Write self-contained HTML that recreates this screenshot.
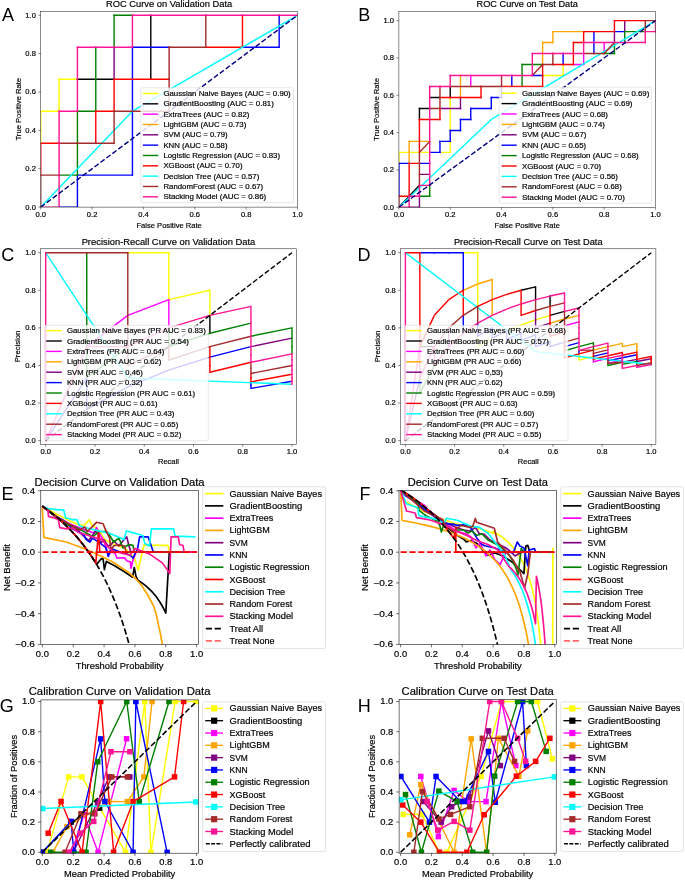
<!DOCTYPE html><html><head><meta charset="utf-8"><style>html,body{margin:0;padding:0;background:#fff;}svg{display:block;}text{font-family:"Liberation Sans", sans-serif;stroke:#000;stroke-width:0.18px;paint-order:stroke;}</style></head><body>
<svg width="685" height="880" viewBox="0 0 685 880">
<rect width="685" height="880" fill="#fff"/>
<defs>
<clipPath id="cA"><rect x="40.75" y="11.40" width="256.75" height="195.70"/></clipPath>
<clipPath id="cB"><rect x="398.90" y="11.40" width="256.60" height="195.90"/></clipPath>
<clipPath id="cC"><rect x="40.60" y="248.80" width="255.70" height="195.50"/></clipPath>
<clipPath id="cD"><rect x="400.60" y="248.80" width="255.30" height="195.50"/></clipPath>
<clipPath id="cE"><rect x="40.80" y="490.70" width="157.60" height="153.70"/></clipPath>
<clipPath id="cF"><rect x="399.00" y="490.70" width="157.70" height="153.70"/></clipPath>
<clipPath id="cG"><rect x="40.90" y="699.90" width="157.40" height="153.30"/></clipPath>
<clipPath id="cH"><rect x="399.10" y="699.70" width="157.10" height="153.50"/></clipPath>
</defs>
<g clip-path="url(#cA)" fill="none" stroke-width="1.41">
<path d="M40.75 143.17V111.20" stroke="#ffff00" stroke-linecap="square"/>
<path d="M40.75 111.20H59.09" stroke="#ffff00" stroke-linecap="square"/>
<path d="M59.09 111.20V79.23" stroke="#ffff00" stroke-linecap="square"/>
<path d="M59.09 79.23H77.43" stroke="#ffff00" stroke-linecap="square"/>
<path d="M77.43 79.23H114.11" stroke="#000000" stroke-linecap="square"/>
<path d="M150.79 79.23V15.30" stroke="#000000" stroke-linecap="square"/>
<path d="M114.11 79.23V47.27" stroke="#800080" stroke-linecap="square"/>
<path d="M59.09 207.10H77.43" stroke="#0000ff" stroke-linecap="square"/>
<path d="M77.43 207.10V175.13" stroke="#0000ff" stroke-linecap="square"/>
<path d="M77.43 175.13H132.45" stroke="#0000ff" stroke-linecap="square"/>
<path d="M132.45 175.13V47.27" stroke="#0000ff" stroke-linecap="square"/>
<path d="M132.45 47.27H169.12" stroke="#0000ff" stroke-linecap="square"/>
<path d="M242.48 47.27H279.16" stroke="#0000ff" stroke-linecap="square"/>
<path d="M279.16 47.27V15.30" stroke="#0000ff" stroke-linecap="square"/>
<path d="M59.09 175.13H77.43" stroke="#008000" stroke-linecap="square"/>
<path d="M77.43 175.13V143.17" stroke="#008000" stroke-linecap="square"/>
<path d="M77.43 143.17V111.20" stroke="#008000" stroke-linecap="square"/>
<path d="M77.43 111.20H95.77" stroke="#008000" stroke-linecap="square"/>
<path d="M95.77 111.20V47.27" stroke="#008000" stroke-linecap="square"/>
<path d="M114.11 47.27V15.30" stroke="#008000" stroke-linecap="square"/>
<path d="M114.11 15.30H132.45" stroke="#008000" stroke-linecap="square"/>
<path d="M40.75 175.13V143.17" stroke="#ff0000" stroke-linecap="square"/>
<path d="M40.75 143.17H59.09" stroke="#ff0000" stroke-linecap="square"/>
<path d="M95.77 143.17V111.20" stroke="#ff0000" stroke-linecap="square"/>
<path d="M95.77 111.20H114.11" stroke="#ff0000" stroke-linecap="square"/>
<path d="M114.11 111.20V79.23" stroke="#ff0000" stroke-linecap="square"/>
<path d="M114.11 79.23H150.79" stroke="#ff0000" stroke-linecap="square"/>
<path d="M150.79 79.23H169.12" stroke="#ff0000" stroke-linecap="square"/>
<path d="M205.80 47.27H242.48" stroke="#ff0000" stroke-linecap="square"/>
<path d="M242.48 47.27V15.30" stroke="#ff0000" stroke-linecap="square"/>
<path d="M40.75 207.10L132.45 111.20" stroke="#00ffff" stroke-linecap="butt"/>
<path d="M132.45 111.20L297.50 15.30" stroke="#00ffff" stroke-linecap="butt"/>
<path d="M40.75 207.10V175.13" stroke="#a52a2a" stroke-linecap="square"/>
<path d="M40.75 175.13H59.09" stroke="#a52a2a" stroke-linecap="square"/>
<path d="M59.09 143.17H77.43" stroke="#a52a2a" stroke-linecap="square"/>
<path d="M77.43 143.17H95.77" stroke="#a52a2a" stroke-linecap="square"/>
<path d="M95.77 143.17H114.11" stroke="#a52a2a" stroke-linecap="square"/>
<path d="M114.11 143.17V111.20" stroke="#a52a2a" stroke-linecap="square"/>
<path d="M114.11 111.20H169.12" stroke="#a52a2a" stroke-linecap="square"/>
<path d="M169.12 111.20V79.23" stroke="#a52a2a" stroke-linecap="square"/>
<path d="M169.12 79.23V47.27" stroke="#a52a2a" stroke-linecap="square"/>
<path d="M169.12 47.27H205.80" stroke="#a52a2a" stroke-linecap="square"/>
<path d="M205.80 47.27V15.30" stroke="#a52a2a" stroke-linecap="square"/>
<path d="M40.75 207.10H59.09" stroke="#ff1493" stroke-linecap="square"/>
<path d="M59.09 207.10V175.13" stroke="#ff1493" stroke-linecap="square"/>
<path d="M59.09 175.13V143.17" stroke="#ff1493" stroke-linecap="square"/>
<path d="M59.09 143.17V111.20" stroke="#ff1493" stroke-linecap="square"/>
<path d="M59.09 111.20H77.43" stroke="#ff1493" stroke-linecap="square"/>
<path d="M77.43 111.20V79.23" stroke="#ff1493" stroke-linecap="square"/>
<path d="M77.43 79.23V47.27" stroke="#ff1493" stroke-linecap="square"/>
<path d="M77.43 47.27H95.77" stroke="#ff1493" stroke-linecap="square"/>
<path d="M95.77 47.27H114.11" stroke="#ff1493" stroke-linecap="square"/>
<path d="M114.11 47.27H132.45" stroke="#ff1493" stroke-linecap="square"/>
<path d="M132.45 47.27V15.30" stroke="#ff1493" stroke-linecap="square"/>
<path d="M132.45 15.30H150.79" stroke="#ff1493" stroke-linecap="square"/>
<path d="M150.79 15.30H205.80" stroke="#ff1493" stroke-linecap="square"/>
<path d="M205.80 15.30H242.48" stroke="#ff1493" stroke-linecap="square"/>
<path d="M242.48 15.30H279.16" stroke="#ff1493" stroke-linecap="square"/>
<path d="M279.16 15.30H297.50" stroke="#ff1493" stroke-linecap="square"/>
</g>
<g clip-path="url(#cA)"><line x1="40.75" y1="207.10" x2="297.50" y2="15.30" stroke="#000080" stroke-width="1.41" stroke-dasharray="5.20 2.25"/></g>
<g clip-path="url(#cB)" fill="none" stroke-width="1.41">
<path d="M398.90 163.37V152.39" stroke="#ffff00" stroke-linecap="square"/>
<path d="M398.90 152.39H429.69" stroke="#ffff00" stroke-linecap="square"/>
<path d="M439.96 152.39H450.22" stroke="#ffff00" stroke-linecap="square"/>
<path d="M450.22 152.39V141.41" stroke="#ffff00" stroke-linecap="square"/>
<path d="M450.22 130.42V97.48" stroke="#ffff00" stroke-linecap="square"/>
<path d="M542.60 75.51H563.12" stroke="#ffff00" stroke-linecap="square"/>
<path d="M563.12 75.51V64.53" stroke="#ffff00" stroke-linecap="square"/>
<path d="M398.90 207.30L419.43 185.34" stroke="#000000" stroke-linecap="butt"/>
<path d="M419.43 119.44V108.46" stroke="#000000" stroke-linecap="square"/>
<path d="M419.43 108.46H429.69" stroke="#000000" stroke-linecap="square"/>
<path d="M429.69 97.48H439.96" stroke="#000000" stroke-linecap="square"/>
<path d="M450.22 97.48V86.49" stroke="#000000" stroke-linecap="square"/>
<path d="M470.75 86.49V75.51" stroke="#ff00ff" stroke-linecap="square"/>
<path d="M573.39 64.53H583.65" stroke="#ff00ff" stroke-linecap="square"/>
<path d="M583.65 64.53V53.55" stroke="#ff00ff" stroke-linecap="square"/>
<path d="M604.18 53.55V42.56" stroke="#ff00ff" stroke-linecap="square"/>
<path d="M409.16 163.37V141.41" stroke="#ffa500" stroke-linecap="square"/>
<path d="M409.16 141.41H429.69" stroke="#ffa500" stroke-linecap="square"/>
<path d="M460.48 97.48V75.51" stroke="#ffa500" stroke-linecap="square"/>
<path d="M542.60 64.53V42.56" stroke="#ffa500" stroke-linecap="square"/>
<path d="M542.60 42.56H552.86" stroke="#ffa500" stroke-linecap="square"/>
<path d="M552.86 42.56V31.58" stroke="#ffa500" stroke-linecap="square"/>
<path d="M552.86 31.58H583.65" stroke="#ffa500" stroke-linecap="square"/>
<path d="M409.16 207.30H419.43" stroke="#800080" stroke-linecap="square"/>
<path d="M419.43 207.30V196.32" stroke="#800080" stroke-linecap="square"/>
<path d="M419.43 174.35H429.69" stroke="#800080" stroke-linecap="square"/>
<path d="M439.96 108.46H460.48" stroke="#800080" stroke-linecap="square"/>
<path d="M460.48 108.46V97.48" stroke="#800080" stroke-linecap="square"/>
<path d="M614.44 42.56V31.58" stroke="#800080" stroke-linecap="square"/>
<path d="M624.71 31.58V20.60" stroke="#800080" stroke-linecap="square"/>
<path d="M398.90 196.32V163.37" stroke="#0000ff" stroke-linecap="square"/>
<path d="M398.90 163.37H409.16" stroke="#0000ff" stroke-linecap="square"/>
<path d="M419.43 163.37H429.69" stroke="#0000ff" stroke-linecap="square"/>
<path d="M429.69 152.39H439.96" stroke="#0000ff" stroke-linecap="square"/>
<path d="M439.96 152.39V141.41" stroke="#0000ff" stroke-linecap="square"/>
<path d="M439.96 141.41H450.22" stroke="#0000ff" stroke-linecap="square"/>
<path d="M450.22 141.41V130.42" stroke="#0000ff" stroke-linecap="square"/>
<path d="M450.22 130.42H460.48" stroke="#0000ff" stroke-linecap="square"/>
<path d="M460.48 130.42V119.44" stroke="#0000ff" stroke-linecap="square"/>
<path d="M460.48 119.44H470.75" stroke="#0000ff" stroke-linecap="square"/>
<path d="M470.75 119.44V108.46" stroke="#0000ff" stroke-linecap="square"/>
<path d="M470.75 108.46H491.28" stroke="#0000ff" stroke-linecap="square"/>
<path d="M491.28 108.46V97.48" stroke="#0000ff" stroke-linecap="square"/>
<path d="M491.28 97.48H501.54" stroke="#0000ff" stroke-linecap="square"/>
<path d="M501.54 97.48V86.49" stroke="#0000ff" stroke-linecap="square"/>
<path d="M511.80 86.49V75.51" stroke="#0000ff" stroke-linecap="square"/>
<path d="M532.33 75.51H542.60" stroke="#0000ff" stroke-linecap="square"/>
<path d="M563.12 64.53V53.55" stroke="#0000ff" stroke-linecap="square"/>
<path d="M593.92 53.55V31.58" stroke="#0000ff" stroke-linecap="square"/>
<path d="M614.44 31.58H624.71" stroke="#0000ff" stroke-linecap="square"/>
<path d="M419.43 196.32H429.69" stroke="#008000" stroke-linecap="square"/>
<path d="M429.69 196.32V185.34" stroke="#008000" stroke-linecap="square"/>
<path d="M522.07 86.49V64.53" stroke="#008000" stroke-linecap="square"/>
<path d="M522.07 64.53H542.60" stroke="#008000" stroke-linecap="square"/>
<path d="M604.18 53.55H614.44" stroke="#008000" stroke-linecap="square"/>
<path d="M614.44 53.55V42.56" stroke="#008000" stroke-linecap="square"/>
<path d="M624.71 42.56V31.58" stroke="#008000" stroke-linecap="square"/>
<path d="M624.71 31.58H645.24" stroke="#008000" stroke-linecap="square"/>
<path d="M398.90 196.32H409.16" stroke="#ff0000" stroke-linecap="square"/>
<path d="M409.16 196.32V163.37" stroke="#ff0000" stroke-linecap="square"/>
<path d="M409.16 163.37H419.43" stroke="#ff0000" stroke-linecap="square"/>
<path d="M419.43 152.39V119.44" stroke="#ff0000" stroke-linecap="square"/>
<path d="M419.43 119.44H439.96" stroke="#ff0000" stroke-linecap="square"/>
<path d="M439.96 119.44V108.46" stroke="#ff0000" stroke-linecap="square"/>
<path d="M439.96 97.48H450.22" stroke="#ff0000" stroke-linecap="square"/>
<path d="M450.22 97.48H481.01" stroke="#ff0000" stroke-linecap="square"/>
<path d="M481.01 97.48V86.49" stroke="#ff0000" stroke-linecap="square"/>
<path d="M501.54 86.49H511.80" stroke="#ff0000" stroke-linecap="square"/>
<path d="M511.80 86.49H542.60" stroke="#ff0000" stroke-linecap="square"/>
<path d="M542.60 86.49V75.51" stroke="#ff0000" stroke-linecap="square"/>
<path d="M542.60 75.51V64.53" stroke="#ff0000" stroke-linecap="square"/>
<path d="M552.86 64.53H563.12" stroke="#ff0000" stroke-linecap="square"/>
<path d="M563.12 64.53H573.39" stroke="#ff0000" stroke-linecap="square"/>
<path d="M573.39 64.53V42.56" stroke="#ff0000" stroke-linecap="square"/>
<path d="M573.39 42.56H583.65" stroke="#ff0000" stroke-linecap="square"/>
<path d="M583.65 42.56V31.58" stroke="#ff0000" stroke-linecap="square"/>
<path d="M583.65 31.58H593.92" stroke="#ff0000" stroke-linecap="square"/>
<path d="M593.92 31.58H614.44" stroke="#ff0000" stroke-linecap="square"/>
<path d="M614.44 31.58V20.60" stroke="#ff0000" stroke-linecap="square"/>
<path d="M614.44 20.60H645.24" stroke="#ff0000" stroke-linecap="square"/>
<path d="M398.90 207.30L491.28 119.44" stroke="#00ffff" stroke-linecap="butt"/>
<path d="M491.28 119.44L655.50 20.60" stroke="#00ffff" stroke-linecap="butt"/>
<path d="M398.90 207.30V196.32" stroke="#a52a2a" stroke-linecap="square"/>
<path d="M419.43 185.34V174.35" stroke="#a52a2a" stroke-linecap="square"/>
<path d="M419.43 174.35V163.37" stroke="#a52a2a" stroke-linecap="square"/>
<path d="M419.43 163.37V152.39" stroke="#a52a2a" stroke-linecap="square"/>
<path d="M419.43 152.39L429.69 141.41" stroke="#a52a2a" stroke-linecap="butt"/>
<path d="M429.69 108.46H439.96" stroke="#a52a2a" stroke-linecap="square"/>
<path d="M439.96 108.46V97.48" stroke="#a52a2a" stroke-linecap="square"/>
<path d="M439.96 97.48V86.49" stroke="#a52a2a" stroke-linecap="square"/>
<path d="M450.22 86.49H481.01" stroke="#a52a2a" stroke-linecap="square"/>
<path d="M481.01 86.49H501.54" stroke="#a52a2a" stroke-linecap="square"/>
<path d="M501.54 86.49V75.51" stroke="#a52a2a" stroke-linecap="square"/>
<path d="M532.33 75.51L542.60 64.53" stroke="#a52a2a" stroke-linecap="butt"/>
<path d="M542.60 64.53H552.86" stroke="#a52a2a" stroke-linecap="square"/>
<path d="M552.86 64.53V53.55" stroke="#a52a2a" stroke-linecap="square"/>
<path d="M583.65 53.55H593.92" stroke="#a52a2a" stroke-linecap="square"/>
<path d="M593.92 53.55H604.18" stroke="#a52a2a" stroke-linecap="square"/>
<path d="M604.18 53.55L614.44 42.56" stroke="#a52a2a" stroke-linecap="butt"/>
<path d="M645.24 31.58V20.60" stroke="#a52a2a" stroke-linecap="square"/>
<path d="M645.24 20.60H655.50" stroke="#a52a2a" stroke-linecap="square"/>
<path d="M398.90 207.30H409.16" stroke="#ff1493" stroke-linecap="square"/>
<path d="M409.16 207.30V196.32" stroke="#ff1493" stroke-linecap="square"/>
<path d="M409.16 196.32H419.43" stroke="#ff1493" stroke-linecap="square"/>
<path d="M419.43 196.32V185.34" stroke="#ff1493" stroke-linecap="square"/>
<path d="M419.43 185.34H429.69" stroke="#ff1493" stroke-linecap="square"/>
<path d="M429.69 185.34V163.37" stroke="#ff1493" stroke-linecap="square"/>
<path d="M429.69 163.37V152.39" stroke="#ff1493" stroke-linecap="square"/>
<path d="M429.69 152.39V141.41" stroke="#ff1493" stroke-linecap="square"/>
<path d="M429.69 141.41V108.46" stroke="#ff1493" stroke-linecap="square"/>
<path d="M429.69 108.46V97.48" stroke="#ff1493" stroke-linecap="square"/>
<path d="M429.69 97.48V86.49" stroke="#ff1493" stroke-linecap="square"/>
<path d="M429.69 86.49H439.96" stroke="#ff1493" stroke-linecap="square"/>
<path d="M439.96 86.49H450.22" stroke="#ff1493" stroke-linecap="square"/>
<path d="M450.22 86.49V75.51" stroke="#ff1493" stroke-linecap="square"/>
<path d="M450.22 75.51H511.80" stroke="#ff1493" stroke-linecap="square"/>
<path d="M511.80 75.51H532.33" stroke="#ff1493" stroke-linecap="square"/>
<path d="M532.33 75.51V53.55" stroke="#ff1493" stroke-linecap="square"/>
<path d="M532.33 53.55H552.86" stroke="#ff1493" stroke-linecap="square"/>
<path d="M552.86 53.55H563.12" stroke="#ff1493" stroke-linecap="square"/>
<path d="M563.12 53.55H583.65" stroke="#ff1493" stroke-linecap="square"/>
<path d="M583.65 53.55V42.56" stroke="#ff1493" stroke-linecap="square"/>
<path d="M583.65 42.56H614.44" stroke="#ff1493" stroke-linecap="square"/>
<path d="M614.44 42.56H624.71" stroke="#ff1493" stroke-linecap="square"/>
<path d="M624.71 42.56H645.24" stroke="#ff1493" stroke-linecap="square"/>
<path d="M645.24 42.56V31.58" stroke="#ff1493" stroke-linecap="square"/>
<path d="M645.24 31.58H655.50" stroke="#ff1493" stroke-linecap="square"/>
<path d="M655.50 31.58V20.60" stroke="#ff1493" stroke-linecap="square"/>
</g>
<g clip-path="url(#cB)"><line x1="398.90" y1="207.30" x2="655.50" y2="20.60" stroke="#000080" stroke-width="1.41" stroke-dasharray="5.20 2.25"/></g>
<g clip-path="url(#cC)" fill="none" stroke-width="1.41">
<path d="M127.80 252.70H168.85" stroke="#ffff00" stroke-linecap="square"/>
<path d="M168.85 299.68V252.70" stroke="#ffff00" stroke-linecap="square"/>
<path d="M168.85 299.68L209.90 290.28" stroke="#ffff00" stroke-linecap="butt"/>
<path d="M209.90 315.33V290.28" stroke="#ffff00" stroke-linecap="square"/>
<path d="M209.90 333.23V315.33" stroke="#000000" stroke-linecap="square"/>
<path d="M86.75 346.65L127.80 315.33" stroke="#ff00ff" stroke-linecap="butt"/>
<path d="M127.80 315.33L168.85 299.68" stroke="#ff00ff" stroke-linecap="butt"/>
<path d="M168.85 327.86V299.68" stroke="#ff00ff" stroke-linecap="square"/>
<path d="M250.95 346.65L292.00 338.11" stroke="#800080" stroke-linecap="butt"/>
<path d="M45.70 440.60L86.75 377.97" stroke="#0000ff" stroke-linecap="butt"/>
<path d="M86.75 393.62V377.97" stroke="#0000ff" stroke-linecap="square"/>
<path d="M86.75 403.02V393.62" stroke="#0000ff" stroke-linecap="square"/>
<path d="M86.75 409.28V403.02" stroke="#0000ff" stroke-linecap="square"/>
<path d="M86.75 409.28L127.80 386.91" stroke="#0000ff" stroke-linecap="butt"/>
<path d="M127.80 386.91L168.85 370.14" stroke="#0000ff" stroke-linecap="butt"/>
<path d="M168.85 370.14L209.90 357.09" stroke="#0000ff" stroke-linecap="butt"/>
<path d="M209.90 357.09L250.95 346.65" stroke="#0000ff" stroke-linecap="butt"/>
<path d="M250.95 385.34V381.88" stroke="#0000ff" stroke-linecap="square"/>
<path d="M250.95 388.41V385.34" stroke="#0000ff" stroke-linecap="square"/>
<path d="M250.95 388.41L292.00 381.26" stroke="#0000ff" stroke-linecap="butt"/>
<path d="M86.75 346.65V252.70" stroke="#008000" stroke-linecap="square"/>
<path d="M86.75 377.97V346.65" stroke="#008000" stroke-linecap="square"/>
<path d="M86.75 377.97L127.80 346.65" stroke="#008000" stroke-linecap="butt"/>
<path d="M168.85 346.65V327.86" stroke="#008000" stroke-linecap="square"/>
<path d="M168.85 346.65L209.90 333.23" stroke="#008000" stroke-linecap="butt"/>
<path d="M209.90 333.23L250.95 323.16" stroke="#008000" stroke-linecap="butt"/>
<path d="M250.95 336.21L292.00 327.86" stroke="#008000" stroke-linecap="butt"/>
<path d="M292.00 338.11V327.86" stroke="#008000" stroke-linecap="square"/>
<path d="M292.00 346.65V338.11" stroke="#008000" stroke-linecap="square"/>
<path d="M292.00 353.88V346.65" stroke="#008000" stroke-linecap="square"/>
<path d="M209.90 357.09V346.65" stroke="#ff0000" stroke-linecap="square"/>
<path d="M209.90 365.44V357.09" stroke="#ff0000" stroke-linecap="square"/>
<path d="M209.90 372.27V365.44" stroke="#ff0000" stroke-linecap="square"/>
<path d="M209.90 372.27L250.95 362.31" stroke="#ff0000" stroke-linecap="butt"/>
<path d="M250.95 377.97V373.49" stroke="#ff0000" stroke-linecap="square"/>
<path d="M250.95 381.88V377.97" stroke="#ff0000" stroke-linecap="square"/>
<path d="M250.95 381.88L292.00 374.28" stroke="#ff0000" stroke-linecap="butt"/>
<path d="M45.70 252.70L127.80 377.97" stroke="#00ffff" stroke-linecap="butt"/>
<path d="M127.80 377.97L292.00 384.23" stroke="#00ffff" stroke-linecap="butt"/>
<path d="M45.70 252.70H86.75" stroke="#a52a2a" stroke-linecap="square"/>
<path d="M86.75 252.70H127.80" stroke="#a52a2a" stroke-linecap="square"/>
<path d="M127.80 365.44V346.65" stroke="#a52a2a" stroke-linecap="square"/>
<path d="M127.80 346.65V315.33" stroke="#a52a2a" stroke-linecap="square"/>
<path d="M127.80 315.33V252.70" stroke="#a52a2a" stroke-linecap="square"/>
<path d="M127.80 365.44L168.85 346.65" stroke="#a52a2a" stroke-linecap="butt"/>
<path d="M168.85 360.07V346.65" stroke="#a52a2a" stroke-linecap="square"/>
<path d="M168.85 360.07L209.90 346.65" stroke="#a52a2a" stroke-linecap="butt"/>
<path d="M209.90 346.65L250.95 336.21" stroke="#a52a2a" stroke-linecap="butt"/>
<path d="M250.95 373.49V368.33" stroke="#a52a2a" stroke-linecap="square"/>
<path d="M250.95 368.33V362.31" stroke="#a52a2a" stroke-linecap="square"/>
<path d="M250.95 373.49L292.00 365.44" stroke="#a52a2a" stroke-linecap="butt"/>
<path d="M45.70 440.60V252.70" stroke="#ff1493" stroke-linecap="square"/>
<path d="M45.70 440.60L86.75 346.65" stroke="#ff1493" stroke-linecap="butt"/>
<path d="M86.75 346.65H127.80" stroke="#ff1493" stroke-linecap="square"/>
<path d="M127.80 346.65L168.85 327.86" stroke="#ff1493" stroke-linecap="butt"/>
<path d="M168.85 327.86L209.90 315.33" stroke="#ff1493" stroke-linecap="butt"/>
<path d="M209.90 315.33L250.95 306.39" stroke="#ff1493" stroke-linecap="butt"/>
<path d="M250.95 362.31V355.19" stroke="#ff1493" stroke-linecap="square"/>
<path d="M250.95 355.19V346.65" stroke="#ff1493" stroke-linecap="square"/>
<path d="M250.95 346.65V336.21" stroke="#ff1493" stroke-linecap="square"/>
<path d="M250.95 336.21V323.16" stroke="#ff1493" stroke-linecap="square"/>
<path d="M250.95 323.16V306.39" stroke="#ff1493" stroke-linecap="square"/>
<path d="M250.95 362.31L292.00 353.88" stroke="#ff1493" stroke-linecap="butt"/>
<path d="M292.00 384.23V381.26" stroke="#ff1493" stroke-linecap="square"/>
<path d="M292.00 381.26V377.97" stroke="#ff1493" stroke-linecap="square"/>
<path d="M292.00 377.97V374.28" stroke="#ff1493" stroke-linecap="square"/>
<path d="M292.00 374.28V370.14" stroke="#ff1493" stroke-linecap="square"/>
<path d="M292.00 370.14V365.44" stroke="#ff1493" stroke-linecap="square"/>
<path d="M292.00 365.44V360.07" stroke="#ff1493" stroke-linecap="square"/>
<path d="M292.00 360.07V353.88" stroke="#ff1493" stroke-linecap="square"/>
</g>
<g clip-path="url(#cC)"><line x1="45.70" y1="440.60" x2="292.00" y2="252.70" stroke="#000" stroke-width="1.41" stroke-dasharray="5.20 2.25"/></g>
<g clip-path="url(#cD)" fill="none" stroke-width="1.41">
<path d="M463.26 252.70H477.72" stroke="#ffff00" stroke-linecap="square"/>
<path d="M477.72 284.02V252.70" stroke="#ffff00" stroke-linecap="square"/>
<path d="M477.72 306.39V284.02" stroke="#ffff00" stroke-linecap="square"/>
<path d="M477.72 346.65V336.21" stroke="#ffff00" stroke-linecap="square"/>
<path d="M477.72 346.65L492.19 338.11" stroke="#ffff00" stroke-linecap="butt"/>
<path d="M506.65 330.99L521.12 324.97" stroke="#ffff00" stroke-linecap="butt"/>
<path d="M521.12 324.97L535.58 319.81" stroke="#ffff00" stroke-linecap="butt"/>
<path d="M535.58 319.81L550.05 315.33" stroke="#ffff00" stroke-linecap="butt"/>
<path d="M578.98 357.09V353.88" stroke="#ffff00" stroke-linecap="square"/>
<path d="M578.98 360.07V357.09" stroke="#ffff00" stroke-linecap="square"/>
<path d="M578.98 360.07L593.44 356.37" stroke="#ffff00" stroke-linecap="butt"/>
<path d="M419.86 346.65H434.33" stroke="#000000" stroke-linecap="square"/>
<path d="M521.12 290.28L535.58 286.86" stroke="#000000" stroke-linecap="butt"/>
<path d="M535.58 299.68V286.86" stroke="#000000" stroke-linecap="square"/>
<path d="M550.05 306.39V296.06" stroke="#000000" stroke-linecap="square"/>
<path d="M550.05 315.33L564.51 311.42" stroke="#000000" stroke-linecap="butt"/>
<path d="M564.51 325.77L578.98 321.93" stroke="#ff00ff" stroke-linecap="butt"/>
<path d="M593.44 361.80V359.18" stroke="#ff00ff" stroke-linecap="square"/>
<path d="M593.44 361.80L607.91 358.39" stroke="#ff00ff" stroke-linecap="butt"/>
<path d="M607.91 363.23L622.37 360.07" stroke="#ff00ff" stroke-linecap="butt"/>
<path d="M463.26 290.28L477.72 284.02" stroke="#ffa500" stroke-linecap="butt"/>
<path d="M477.72 284.02L492.19 279.54" stroke="#ffa500" stroke-linecap="butt"/>
<path d="M492.19 299.68V279.54" stroke="#ffa500" stroke-linecap="square"/>
<path d="M492.19 315.33V299.68" stroke="#ffa500" stroke-linecap="square"/>
<path d="M550.05 323.16L564.51 319.02" stroke="#ffa500" stroke-linecap="butt"/>
<path d="M564.51 319.02L578.98 315.33" stroke="#ffa500" stroke-linecap="butt"/>
<path d="M593.44 350.13L607.91 346.65" stroke="#ffa500" stroke-linecap="butt"/>
<path d="M607.91 346.65L622.37 343.41" stroke="#ffa500" stroke-linecap="butt"/>
<path d="M622.37 346.65V343.41" stroke="#ffa500" stroke-linecap="square"/>
<path d="M622.37 346.65L636.84 343.62" stroke="#ffa500" stroke-linecap="butt"/>
<path d="M636.84 346.65V343.62" stroke="#ffa500" stroke-linecap="square"/>
<path d="M636.84 349.50V346.65" stroke="#ffa500" stroke-linecap="square"/>
<path d="M636.84 352.18V349.50" stroke="#ffa500" stroke-linecap="square"/>
<path d="M405.40 440.60L419.86 377.97" stroke="#800080" stroke-linecap="butt"/>
<path d="M448.79 346.65V327.86" stroke="#800080" stroke-linecap="square"/>
<path d="M535.58 319.81V310.52" stroke="#800080" stroke-linecap="square"/>
<path d="M535.58 327.86V319.81" stroke="#800080" stroke-linecap="square"/>
<path d="M535.58 327.86L550.05 323.16" stroke="#800080" stroke-linecap="butt"/>
<path d="M622.37 362.31L636.84 359.35" stroke="#800080" stroke-linecap="butt"/>
<path d="M636.84 361.48L651.30 358.69" stroke="#800080" stroke-linecap="butt"/>
<path d="M419.86 252.70H434.33" stroke="#0000ff" stroke-linecap="square"/>
<path d="M434.33 252.70H448.79" stroke="#0000ff" stroke-linecap="square"/>
<path d="M448.79 252.70H463.26" stroke="#0000ff" stroke-linecap="square"/>
<path d="M463.26 290.28V252.70" stroke="#0000ff" stroke-linecap="square"/>
<path d="M463.26 333.23V315.33" stroke="#0000ff" stroke-linecap="square"/>
<path d="M477.72 336.21V323.16" stroke="#0000ff" stroke-linecap="square"/>
<path d="M477.72 336.21L492.19 327.86" stroke="#0000ff" stroke-linecap="butt"/>
<path d="M492.19 338.11V327.86" stroke="#0000ff" stroke-linecap="square"/>
<path d="M492.19 338.11L506.65 330.99" stroke="#0000ff" stroke-linecap="butt"/>
<path d="M506.65 339.42V330.99" stroke="#0000ff" stroke-linecap="square"/>
<path d="M506.65 339.42L521.12 333.23" stroke="#0000ff" stroke-linecap="butt"/>
<path d="M521.12 340.39V333.23" stroke="#0000ff" stroke-linecap="square"/>
<path d="M521.12 340.39L535.58 334.91" stroke="#0000ff" stroke-linecap="butt"/>
<path d="M535.58 341.12V334.91" stroke="#0000ff" stroke-linecap="square"/>
<path d="M535.58 346.65V341.12" stroke="#0000ff" stroke-linecap="square"/>
<path d="M535.58 346.65L550.05 341.71" stroke="#0000ff" stroke-linecap="butt"/>
<path d="M550.05 346.65V341.71" stroke="#0000ff" stroke-linecap="square"/>
<path d="M550.05 346.65L564.51 342.18" stroke="#0000ff" stroke-linecap="butt"/>
<path d="M564.51 346.65L578.98 342.57" stroke="#0000ff" stroke-linecap="butt"/>
<path d="M578.98 353.88V350.41" stroke="#0000ff" stroke-linecap="square"/>
<path d="M593.44 356.37L607.91 352.91" stroke="#0000ff" stroke-linecap="butt"/>
<path d="M607.91 360.88L622.37 357.70" stroke="#0000ff" stroke-linecap="butt"/>
<path d="M622.37 357.70L636.84 354.70" stroke="#0000ff" stroke-linecap="butt"/>
<path d="M636.84 361.48V359.35" stroke="#0000ff" stroke-linecap="square"/>
<path d="M419.86 393.62V377.97" stroke="#008000" stroke-linecap="square"/>
<path d="M419.86 393.62L434.33 365.44" stroke="#008000" stroke-linecap="butt"/>
<path d="M564.51 350.73L578.98 346.65" stroke="#008000" stroke-linecap="butt"/>
<path d="M578.98 346.65L593.44 342.89" stroke="#008000" stroke-linecap="butt"/>
<path d="M593.44 346.65V342.89" stroke="#008000" stroke-linecap="square"/>
<path d="M593.44 350.13V346.65" stroke="#008000" stroke-linecap="square"/>
<path d="M607.91 365.44V363.23" stroke="#008000" stroke-linecap="square"/>
<path d="M607.91 365.44L622.37 362.31" stroke="#008000" stroke-linecap="butt"/>
<path d="M622.37 364.42L636.84 361.48" stroke="#008000" stroke-linecap="butt"/>
<path d="M636.84 363.51V361.48" stroke="#008000" stroke-linecap="square"/>
<path d="M636.84 365.44V363.51" stroke="#008000" stroke-linecap="square"/>
<path d="M405.40 252.70H419.86" stroke="#ff0000" stroke-linecap="square"/>
<path d="M419.86 346.65V252.70" stroke="#ff0000" stroke-linecap="square"/>
<path d="M419.86 346.65L434.33 315.33" stroke="#ff0000" stroke-linecap="butt"/>
<path d="M434.33 315.33L448.79 299.68" stroke="#ff0000" stroke-linecap="butt"/>
<path d="M448.79 299.68L463.26 290.28" stroke="#ff0000" stroke-linecap="butt"/>
<path d="M463.26 315.33V290.28" stroke="#ff0000" stroke-linecap="square"/>
<path d="M477.72 306.39L492.19 299.68" stroke="#ff0000" stroke-linecap="butt"/>
<path d="M492.19 299.68L506.65 294.46" stroke="#ff0000" stroke-linecap="butt"/>
<path d="M506.65 294.46L521.12 290.28" stroke="#ff0000" stroke-linecap="butt"/>
<path d="M521.12 303.95V290.28" stroke="#ff0000" stroke-linecap="square"/>
<path d="M521.12 315.33V303.95" stroke="#ff0000" stroke-linecap="square"/>
<path d="M521.12 315.33L535.58 310.52" stroke="#ff0000" stroke-linecap="butt"/>
<path d="M550.05 315.33V306.39" stroke="#ff0000" stroke-linecap="square"/>
<path d="M550.05 323.16V315.33" stroke="#ff0000" stroke-linecap="square"/>
<path d="M550.05 330.07V323.16" stroke="#ff0000" stroke-linecap="square"/>
<path d="M550.05 336.21V330.07" stroke="#ff0000" stroke-linecap="square"/>
<path d="M550.05 336.21L564.51 331.82" stroke="#ff0000" stroke-linecap="butt"/>
<path d="M564.51 346.65V342.18" stroke="#ff0000" stroke-linecap="square"/>
<path d="M564.51 350.73V346.65" stroke="#ff0000" stroke-linecap="square"/>
<path d="M564.51 354.48V350.73" stroke="#ff0000" stroke-linecap="square"/>
<path d="M564.51 357.92V354.48" stroke="#ff0000" stroke-linecap="square"/>
<path d="M564.51 357.92L578.98 353.88" stroke="#ff0000" stroke-linecap="butt"/>
<path d="M578.98 353.88L593.44 350.13" stroke="#ff0000" stroke-linecap="butt"/>
<path d="M593.44 356.37V353.36" stroke="#ff0000" stroke-linecap="square"/>
<path d="M593.44 359.18V356.37" stroke="#ff0000" stroke-linecap="square"/>
<path d="M593.44 359.18L607.91 355.74" stroke="#ff0000" stroke-linecap="butt"/>
<path d="M607.91 355.74L622.37 352.52" stroke="#ff0000" stroke-linecap="butt"/>
<path d="M622.37 355.19V352.52" stroke="#ff0000" stroke-linecap="square"/>
<path d="M622.37 355.19L636.84 352.18" stroke="#ff0000" stroke-linecap="butt"/>
<path d="M636.84 354.70V352.18" stroke="#ff0000" stroke-linecap="square"/>
<path d="M636.84 357.09V354.70" stroke="#ff0000" stroke-linecap="square"/>
<path d="M636.84 359.35V357.09" stroke="#ff0000" stroke-linecap="square"/>
<path d="M636.84 359.35L651.30 356.54" stroke="#ff0000" stroke-linecap="butt"/>
<path d="M651.30 358.69V356.54" stroke="#ff0000" stroke-linecap="square"/>
<path d="M651.30 360.74V358.69" stroke="#ff0000" stroke-linecap="square"/>
<path d="M651.30 362.69V360.74" stroke="#ff0000" stroke-linecap="square"/>
<path d="M405.40 252.70L535.58 351.59" stroke="#00ffff" stroke-linecap="butt"/>
<path d="M535.58 351.59L651.30 364.55" stroke="#00ffff" stroke-linecap="butt"/>
<path d="M434.33 346.65L448.79 327.86" stroke="#a52a2a" stroke-linecap="butt"/>
<path d="M448.79 327.86L463.26 315.33" stroke="#a52a2a" stroke-linecap="butt"/>
<path d="M463.26 315.33L477.72 306.39" stroke="#a52a2a" stroke-linecap="butt"/>
<path d="M477.72 323.16V306.39" stroke="#a52a2a" stroke-linecap="square"/>
<path d="M535.58 310.52V299.68" stroke="#a52a2a" stroke-linecap="square"/>
<path d="M535.58 310.52L550.05 306.39" stroke="#a52a2a" stroke-linecap="butt"/>
<path d="M550.05 306.39L564.51 302.81" stroke="#a52a2a" stroke-linecap="butt"/>
<path d="M564.51 319.02V311.42" stroke="#a52a2a" stroke-linecap="square"/>
<path d="M564.51 325.77V319.02" stroke="#a52a2a" stroke-linecap="square"/>
<path d="M564.51 331.82V325.77" stroke="#a52a2a" stroke-linecap="square"/>
<path d="M564.51 337.25V331.82" stroke="#a52a2a" stroke-linecap="square"/>
<path d="M564.51 342.18V337.25" stroke="#a52a2a" stroke-linecap="square"/>
<path d="M564.51 342.18L578.98 338.11" stroke="#a52a2a" stroke-linecap="butt"/>
<path d="M578.98 350.41L593.44 350.13" stroke="#a52a2a" stroke-linecap="butt"/>
<path d="M593.44 353.36V350.13" stroke="#a52a2a" stroke-linecap="square"/>
<path d="M593.44 353.36L607.91 349.89" stroke="#a52a2a" stroke-linecap="butt"/>
<path d="M607.91 360.88V358.39" stroke="#a52a2a" stroke-linecap="square"/>
<path d="M607.91 363.23V360.88" stroke="#a52a2a" stroke-linecap="square"/>
<path d="M607.91 363.23L622.37 362.31" stroke="#a52a2a" stroke-linecap="butt"/>
<path d="M636.84 365.44L651.30 362.69" stroke="#a52a2a" stroke-linecap="butt"/>
<path d="M651.30 364.55V362.69" stroke="#a52a2a" stroke-linecap="square"/>
<path d="M405.40 440.60V252.70" stroke="#ff1493" stroke-linecap="square"/>
<path d="M405.40 440.60L419.86 346.65" stroke="#ff1493" stroke-linecap="butt"/>
<path d="M419.86 377.97V346.65" stroke="#ff1493" stroke-linecap="square"/>
<path d="M419.86 377.97L434.33 346.65" stroke="#ff1493" stroke-linecap="butt"/>
<path d="M434.33 365.44V346.65" stroke="#ff1493" stroke-linecap="square"/>
<path d="M434.33 365.44L448.79 346.65" stroke="#ff1493" stroke-linecap="butt"/>
<path d="M448.79 346.65L463.26 333.23" stroke="#ff1493" stroke-linecap="butt"/>
<path d="M463.26 333.23L477.72 323.16" stroke="#ff1493" stroke-linecap="butt"/>
<path d="M477.72 323.16L492.19 315.33" stroke="#ff1493" stroke-linecap="butt"/>
<path d="M492.19 315.33L506.65 309.07" stroke="#ff1493" stroke-linecap="butt"/>
<path d="M506.65 309.07L521.12 303.95" stroke="#ff1493" stroke-linecap="butt"/>
<path d="M521.12 303.95L535.58 299.68" stroke="#ff1493" stroke-linecap="butt"/>
<path d="M535.58 299.68L550.05 296.06" stroke="#ff1493" stroke-linecap="butt"/>
<path d="M550.05 296.06L564.51 292.96" stroke="#ff1493" stroke-linecap="butt"/>
<path d="M564.51 302.81V292.96" stroke="#ff1493" stroke-linecap="square"/>
<path d="M564.51 311.42V302.81" stroke="#ff1493" stroke-linecap="square"/>
<path d="M564.51 311.42L578.98 307.96" stroke="#ff1493" stroke-linecap="butt"/>
<path d="M578.98 315.33V307.96" stroke="#ff1493" stroke-linecap="square"/>
<path d="M578.98 321.93V315.33" stroke="#ff1493" stroke-linecap="square"/>
<path d="M578.98 327.86V321.93" stroke="#ff1493" stroke-linecap="square"/>
<path d="M578.98 333.23V327.86" stroke="#ff1493" stroke-linecap="square"/>
<path d="M578.98 338.11V333.23" stroke="#ff1493" stroke-linecap="square"/>
<path d="M578.98 342.57V338.11" stroke="#ff1493" stroke-linecap="square"/>
<path d="M578.98 346.65V342.57" stroke="#ff1493" stroke-linecap="square"/>
<path d="M578.98 350.41V346.65" stroke="#ff1493" stroke-linecap="square"/>
<path d="M578.98 350.41L593.44 346.65" stroke="#ff1493" stroke-linecap="butt"/>
<path d="M593.44 346.65L607.91 343.17" stroke="#ff1493" stroke-linecap="butt"/>
<path d="M607.91 346.65V343.17" stroke="#ff1493" stroke-linecap="square"/>
<path d="M607.91 349.89V346.65" stroke="#ff1493" stroke-linecap="square"/>
<path d="M607.91 352.91V349.89" stroke="#ff1493" stroke-linecap="square"/>
<path d="M607.91 355.74V352.91" stroke="#ff1493" stroke-linecap="square"/>
<path d="M607.91 358.39V355.74" stroke="#ff1493" stroke-linecap="square"/>
<path d="M607.91 358.39L622.37 355.19" stroke="#ff1493" stroke-linecap="butt"/>
<path d="M622.37 357.70V355.19" stroke="#ff1493" stroke-linecap="square"/>
<path d="M622.37 360.07V357.70" stroke="#ff1493" stroke-linecap="square"/>
<path d="M622.37 362.31V360.07" stroke="#ff1493" stroke-linecap="square"/>
<path d="M622.37 364.42V362.31" stroke="#ff1493" stroke-linecap="square"/>
<path d="M622.37 366.43V364.42" stroke="#ff1493" stroke-linecap="square"/>
<path d="M622.37 368.33V366.43" stroke="#ff1493" stroke-linecap="square"/>
<path d="M622.37 368.33L636.84 365.44" stroke="#ff1493" stroke-linecap="butt"/>
<path d="M636.84 367.27V365.44" stroke="#ff1493" stroke-linecap="square"/>
<path d="M636.84 367.27L651.30 364.55" stroke="#ff1493" stroke-linecap="butt"/>
</g>
<g clip-path="url(#cD)"><line x1="405.40" y1="440.60" x2="651.30" y2="252.70" stroke="#000" stroke-width="1.41" stroke-dasharray="5.20 2.25"/></g>
<g clip-path="url(#cE)" fill="none" stroke-linejoin="round" stroke-linecap="butt">
<polyline points="42.2,506.2 57.1,514.5 63.7,517.7 72.8,522.3 79.4,525.0 84.7,525.0 89.3,519.7 91.9,525.0 96.5,528.2 101.8,534.2 104.4,539.4 107.0,540.7 115.0,545.0 125.0,548.0 134.3,557.8 138.2,570.3 140.9,557.8 144.2,544.7 149.4,545.3 167.8,545.3 169.8,552.2 196.6,552.2" stroke="#ffff00" stroke-width="1.67"/>
<polyline points="42.4,506.1 43.2,506.6 43.9,507.2 44.7,507.7 45.5,508.3 46.2,508.8 47.0,509.4 47.7,510.0 48.5,510.5 49.3,511.1 50.0,511.7 50.8,512.3 51.6,512.9 52.3,513.5 53.1,514.1 53.8,514.7 54.6,515.3 55.4,516.0 56.1,516.6 56.9,517.3 57.7,517.9 58.4,518.6 59.2,519.2 60.0,519.9 60.7,520.6 61.5,521.3 62.2,522.0 63.0,522.7 63.8,523.4 64.5,524.1 65.3,524.9 66.1,525.6 66.8,526.3 67.6,527.1 68.4,527.9 69.1,528.6 69.9,529.4 70.6,530.2 71.4,531.0 72.2,531.8 72.9,532.7 73.7,533.5 74.5,534.3 75.2,535.2 76.0,536.0 76.7,536.9 77.5,537.8 78.3,538.7 79.0,539.6 79.8,540.5 80.6,541.5 81.3,542.4 82.1,543.4 82.9,544.4 83.6,545.3 84.4,546.3 85.1,547.4 85.9,548.4 86.7,549.4 87.4,550.5 88.2,551.5 89.0,552.6 89.7,553.7 90.5,554.8 91.3,556.0 92.0,557.1 92.8,558.3 93.5,559.5 94.3,560.7 95.1,561.9 95.8,563.1 96.6,564.4 101.5,558.5 103.1,559.1 104.4,569.6 106.3,561.4 115.0,566.0 124.0,571.5 132.6,577.2 134.3,567.5 136.0,576.3 138.0,580.3 140.3,581.8 142.6,583.4 144.9,585.2 147.3,587.1 149.6,589.3 151.9,591.6 154.2,594.2 156.5,597.1 158.8,600.4 161.1,604.0 163.4,608.2 165.8,613.1 169.3,552.2 196.6,552.2" stroke="#000000" stroke-width="1.67"/>
<polyline points="42.2,506.2 55.0,516.0 70.0,524.0 85.0,530.0 94.0,533.0 96.5,527.6 99.0,533.0 104.0,541.0 108.3,555.2 111.0,552.0 115.0,553.0 117.0,558.0 124.5,557.8 127.0,561.0 130.4,561.8 131.0,568.3 133.0,560.0 136.0,552.2 196.6,552.2" stroke="#ff00ff" stroke-width="1.67"/>
<polyline points="42.2,506.2 43.9,537.4 66.3,542.0 86.0,549.3 99.1,555.2 112.3,561.8 121.0,567.5 129.0,572.8 135.5,578.5 141.3,585.0 147.5,594.5 153.6,606.0 156.2,614.0 158.1,623.4 160.3,633.0 162.3,644.6" stroke="#ffa500" stroke-width="1.67"/>
<polyline points="42.2,506.2 60.0,520.0 75.0,528.0 88.6,540.7 95.2,531.5 98.0,533.0 100.4,543.0 104.0,540.0 108.0,546.0 111.0,544.7 114.0,541.0 118.8,546.0 124.1,539.4 126.7,536.8 129.0,546.0 131.0,552.2 196.6,552.2" stroke="#800080" stroke-width="1.67"/>
<polyline points="42.2,506.2 55.0,516.0 62.3,519.7 68.9,525.0 71.5,528.2 83.4,534.2 86.0,539.4 89.9,542.0 92.6,538.1 100.4,543.4 105.7,547.3 108.3,556.5 111.0,548.6 115.0,550.0 120.0,552.0 125.0,553.0 131.0,556.0 133.0,558.0 137.6,548.6 139.6,536.8 148.1,536.8 153.4,552.2 196.6,552.2" stroke="#0000ff" stroke-width="1.67"/>
<polyline points="42.2,506.2 60.0,520.0 66.3,524.3 75.0,527.0 83.0,531.0 92.6,536.8 99.1,531.5 105.7,531.5 108.3,532.8 113.6,542.0 118.8,538.1 121.0,543.0 123.0,548.0 128.4,544.7 133.0,545.3 134.3,552.2 196.6,552.2" stroke="#008000" stroke-width="1.67"/>
<polyline points="42.4,506.1 43.2,506.6 43.9,507.2 44.7,507.7 45.5,508.3 46.2,508.8 47.0,509.4 47.7,510.0 48.5,510.5 49.3,511.1 50.0,511.7 50.8,512.3 51.6,512.9 52.3,513.5 53.1,514.1 53.8,514.7 54.6,515.3 55.4,516.0 56.1,516.6 56.9,517.3 57.7,517.9 58.4,518.6 59.2,519.2 60.0,519.9 60.7,520.6 61.5,521.3 62.2,522.0 63.0,522.7 63.8,523.4 64.5,524.1 65.3,524.9 66.1,525.6 66.8,526.3 67.6,527.1 68.4,527.9 69.1,528.6 69.9,529.4 70.6,530.2 71.4,531.0 72.2,531.8 72.9,532.7 73.7,533.5 74.5,534.3 75.2,535.2 76.0,536.0 76.7,536.9 77.5,537.8 78.3,538.7 79.0,539.6 79.8,540.5 80.6,541.5 81.3,542.4 82.1,543.4 82.9,544.4 83.6,545.3 84.4,546.3 85.1,547.4 85.9,548.4 86.7,549.4 87.4,550.5 88.2,551.5 89.0,552.6 89.7,553.7 90.5,554.8 91.3,556.0 92.0,557.1 92.8,558.3 93.5,559.5 94.3,560.7 95.1,561.9 95.8,563.1 98.5,532.8 99.8,552.2 196.6,552.2" stroke="#ff0000" stroke-width="1.67"/>
<polyline points="42.2,506.2 47.9,508.5 51.8,509.2 59.7,509.9 63.7,509.9 65.6,517.7 72.8,519.7 76.8,519.7 79.4,525.6 82.0,526.9 110.0,533.5 124.1,539.4 126.4,530.9 142.8,535.5 144.8,543.4 149.4,546.0 151.4,528.9 173.7,528.9 175.0,536.1 195.4,536.8" stroke="#00ffff" stroke-width="1.67"/>
<polyline points="42.2,506.2 60.0,519.0 70.0,524.5 79.4,530.2 84.7,526.9 87.3,531.5 92.6,526.3 96.5,522.3 103.1,523.7 105.7,530.2 109.6,538.1 111.0,550.0 113.6,546.0 117.5,544.7 124.5,546.0 126.4,553.0 129.0,552.2 196.6,552.2" stroke="#a52a2a" stroke-width="1.67"/>
<polyline points="42.2,506.2 47.9,510.5 48.5,516.4 55.8,518.4 58.4,519.7 59.7,527.6 66.3,528.9 72.8,528.2 78.1,532.2 86.0,534.8 96.5,538.1 101.8,539.4 108.3,547.3 113.6,551.2 130.0,555.2 135.0,548.6 149.4,553.9 162.6,563.1 169.8,573.6 171.1,536.8 178.3,536.8 179.6,544.7 182.9,545.3 184.2,552.2 196.6,552.2" stroke="#ff1493" stroke-width="1.67"/>
<polyline points="42.40,506.09 43.16,506.63 43.93,507.17 44.69,507.71 45.45,508.26 46.22,508.82 46.98,509.38 47.74,509.95 48.51,510.53 49.27,511.11 50.03,511.69 50.80,512.29 51.56,512.88 52.32,513.49 53.09,514.10 53.85,514.72 54.61,515.34 55.38,515.98 56.14,516.61 56.90,517.26 57.67,517.91 58.43,518.57 59.19,519.24 59.96,519.91 60.72,520.59 61.48,521.28 62.25,521.98 63.01,522.69 63.77,523.40 64.54,524.12 65.30,524.85 66.06,525.59 66.83,526.34 67.59,527.10 68.35,527.86 69.12,528.64 69.88,529.42 70.64,530.21 71.41,531.02 72.17,531.83 72.93,532.65 73.69,533.49 74.46,534.33 75.22,535.18 75.98,536.05 76.75,536.92 77.51,537.81 78.27,538.71 79.04,539.62 79.80,540.54 80.56,541.48 81.33,542.42 82.09,543.38 82.85,544.36 83.62,545.34 84.38,546.34 85.14,547.35 85.91,548.38 86.67,549.42 87.43,550.47 88.20,551.54 88.96,552.63 89.72,553.73 90.49,554.85 91.25,555.98 92.01,557.13 92.78,558.30 93.54,559.48 94.30,560.68 95.07,561.90 95.83,563.14 96.59,564.39 97.36,565.67 98.12,566.96 98.88,568.28 99.65,569.62 100.41,570.98 101.17,572.35 101.94,573.76 102.70,575.18 103.46,576.63 104.23,578.10 104.99,579.60 105.75,581.12 106.52,582.67 107.28,584.24 108.04,585.84 108.81,587.47 109.57,589.13 110.33,590.81 111.10,592.53 111.86,594.28 112.62,596.06 113.39,597.87 114.15,599.72 114.91,601.60 115.68,603.51 116.44,605.46 117.20,607.45 117.97,609.48 118.73,611.55 119.49,613.66 120.26,615.81 121.02,618.00 121.78,620.24 122.55,622.53 123.31,624.86 124.07,627.24 124.84,629.68 125.60,632.16 126.36,634.70 127.13,637.30 127.89,639.95 128.65,642.66 129.42,645.44 130.18,648.27 130.94,651.18 131.70,654.15 132.47,657.19 133.23,660.31" stroke="#000" stroke-width="1.67" stroke-dasharray="6.17 2.67"/>
<line x1="42.40" y1="552.20" x2="196.60" y2="552.20" stroke="#ff0000" stroke-width="1.67" stroke-dasharray="6.17 2.67"/>
</g>
<g clip-path="url(#cF)" fill="none" stroke-linejoin="round" stroke-linecap="butt">
<polyline points="400.6,490.4 404.6,501.1 417.7,508.4 430.8,514.3 444.0,520.0 457.1,524.0 470.3,527.0 483.0,529.5 493.7,533.5 493.1,531.5 495.1,532.6 497.1,533.8 499.1,535.0 501.1,536.4 503.1,537.9 505.1,539.5 507.1,541.2 509.1,543.1 511.1,545.2 513.1,547.4 515.1,549.9 517.1,552.6 519.1,555.7 521.1,559.1 523.1,562.9 525.1,567.3 527.1,572.2 529.1,578.0 531.1,584.7 533.1,592.6 535.1,602.2 537.0,613.9 539.0,628.6 541.0,647.5 543.0,700.0 552.6,700.0 552.9,548.6 554.0,548.6" stroke="#ffff00" stroke-width="1.67"/>
<polyline points="400.6,490.0 401.4,490.4 402.1,490.9 402.9,491.4 403.7,491.8 404.4,492.3 405.2,492.8 405.9,493.3 406.7,493.8 407.5,494.3 408.2,494.8 409.0,495.3 409.8,495.8 410.5,496.3 411.3,496.8 412.0,497.3 412.8,497.9 413.6,498.4 414.3,498.9 415.1,499.5 415.9,500.0 416.4,501.1 437.4,516.9 444.0,524.8 457.1,535.3 463.7,539.2 466.3,541.9 470.3,540.6 476.8,543.2 487.1,555.2 495.0,553.0 503.0,556.0 512.0,562.0 523.9,573.6 525.8,546.0 527.8,545.3 529.8,552.2 553.0,552.2" stroke="#000000" stroke-width="1.67"/>
<polyline points="400.6,490.4 412.0,498.0 424.3,505.1 428.0,510.0 440.0,520.0 457.1,531.4 466.3,534.0 471.0,537.0 476.0,548.0 480.0,543.0 486.0,556.0 490.0,550.0 495.0,560.0 500.2,564.4 503.0,558.0 506.0,552.2 553.0,552.2" stroke="#ff00ff" stroke-width="1.67"/>
<polyline points="400.6,490.4 402.1,520.5 405.3,521.0 408.5,521.6 411.7,522.2 414.8,522.8 418.0,523.5 421.2,524.2 424.4,524.9 427.5,525.6 430.7,526.4 433.9,527.2 437.1,528.1 440.2,529.0 443.4,530.0 446.6,531.0 449.7,532.1 452.9,533.3 456.1,534.5 459.3,535.9 462.4,537.3 465.6,538.8 468.8,540.4 472.0,542.2 475.1,544.1 478.3,546.1 481.5,548.3 484.7,550.7 487.8,553.4 491.0,556.3 494.2,559.5 497.4,563.1 500.5,567.1 503.7,571.6 506.9,576.7 510.0,582.5 513.2,589.2 516.4,597.0 519.6,606.2 522.7,617.3 525.9,630.7 529.1,647.5" stroke="#ffa500" stroke-width="1.67"/>
<polyline points="400.6,490.4 412.0,500.0 420.0,506.0 431.0,512.0 440.0,520.0 455.0,527.0 463.7,530.0 470.0,531.0 475.5,527.4 479.5,534.0 484.0,534.0 490.0,540.0 500.0,545.0 506.0,548.0 511.0,552.0 515.0,556.0 520.0,553.0 523.0,552.2 553.0,552.2" stroke="#800080" stroke-width="1.67"/>
<polyline points="400.6,490.4 405.9,495.9 415.1,501.1 425.0,510.0 435.0,517.0 444.0,523.5 453.2,524.1 457.1,525.4 463.7,524.8 470.3,527.4 476.8,537.9 482.1,544.5 484.7,545.8 495.0,548.0 505.0,552.0 513.4,552.6 517.3,542.0 519.9,546.0 524.0,548.0 527.8,565.7 529.1,550.0 534.4,548.6 535.7,552.2 553.0,552.2" stroke="#0000ff" stroke-width="1.67"/>
<polyline points="400.6,490.4 410.0,497.0 417.7,502.5 419.0,510.3 426.9,516.3 437.4,521.0 440.0,526.1 441.4,532.0 444.0,524.0 453.0,530.0 463.7,530.0 468.0,533.0 472.0,531.0 476.8,535.3 482.0,534.0 488.0,539.9 500.0,546.0 510.0,556.0 516.0,568.0 518.0,575.0 521.2,548.6 524.0,552.2 553.0,552.2" stroke="#008000" stroke-width="1.67"/>
<polyline points="400.6,490.0 401.4,490.4 402.1,490.9 402.9,491.4 403.7,491.8 404.4,492.3 405.2,492.8 405.9,493.3 406.7,493.8 407.5,494.3 408.2,494.8 409.0,495.3 409.8,495.8 410.5,496.3 411.3,496.8 412.0,497.3 412.8,497.9 413.6,498.4 414.3,498.9 415.1,499.5 415.9,500.0 416.6,500.6 417.4,501.2 418.2,501.7 418.9,502.3 419.7,502.9 420.4,503.5 421.2,504.1 422.0,504.7 422.7,505.3 423.5,505.9 424.3,506.6 425.0,507.2 425.8,507.9 426.6,508.5 427.3,509.2 428.1,509.8 428.8,510.5 429.6,511.2 430.4,511.9 431.1,512.6 431.9,513.3 432.7,514.0 433.4,514.7 434.2,515.5 434.9,516.2 435.7,517.0 436.5,517.7 437.2,518.5 438.0,519.3 438.8,520.1 439.5,520.9 440.3,521.7 441.1,522.5 441.8,523.4 442.6,524.2 443.3,525.1 444.1,525.9 444.9,526.8 445.6,527.7 446.4,528.6 447.2,529.6 447.9,530.5 448.7,531.4 449.5,532.4 450.2,533.4 451.0,534.4 451.7,535.4 452.5,536.4 453.3,537.4 454.0,538.5 455.8,527.4 455.8,552.2 553.0,552.2" stroke="#ff0000" stroke-width="1.67"/>
<polyline points="400.6,490.4 406.5,503.8 417.7,507.7 419.0,515.6 428.2,517.6 437.4,519.5 444.0,523.5 446.6,518.2 457.1,520.2 470.3,526.1 479.5,527.4 488.0,533.3 498.0,546.0 505.0,556.0 511.6,570.8 512.8,572.5 514.1,574.4 515.3,576.3 516.5,578.4 517.7,580.6 518.9,582.9 520.1,585.4 521.3,588.1 522.6,591.0 523.8,594.1 525.0,597.5 526.2,601.2 527.4,605.2 528.6,609.5 529.9,614.3 531.1,619.6 532.3,625.4 533.5,631.9 534.7,639.3 535.9,647.5" stroke="#00ffff" stroke-width="1.67"/>
<polyline points="400.6,490.4 412.0,500.0 424.3,511.0 437.4,516.9 442.7,519.5 444.0,523.5 453.2,531.4 461.1,525.4 470.3,527.4 472.9,526.1 475.3,518.4 476.6,522.3 494.3,528.2 497.6,542.0 505.0,550.0 513.0,560.0 520.0,572.0 524.5,588.0 527.8,574.0 530.4,552.2 553.0,552.2" stroke="#a52a2a" stroke-width="1.67"/>
<polyline points="400.6,490.4 406.5,511.0 415.1,513.0 416.4,517.6 424.3,518.9 430.8,520.2 441.4,524.1 450.6,528.1 457.1,531.4 466.3,535.3 476.8,540.6 488.0,544.5 498.0,550.0 508.5,566.1 510.5,567.9 512.4,569.9 514.3,572.0 516.2,574.4 518.2,577.0 520.1,579.9 522.0,583.1 524.0,586.7 525.9,590.8 527.8,595.5 529.7,601.0 531.7,607.3 533.6,614.8 535.5,623.8 536.4,576.3 536.5,576.4 537.3,580.2 538.2,584.5 539.1,589.3 540.0,594.6 540.9,600.6 541.8,607.5 542.6,615.3 543.5,624.3 544.4,634.9 545.3,647.5" stroke="#ff1493" stroke-width="1.67"/>
<polyline points="400.60,489.99 401.36,490.44 402.13,490.90 402.89,491.37 403.65,491.84 404.42,492.31 405.18,492.79 405.94,493.27 406.71,493.76 407.47,494.25 408.23,494.75 409.00,495.26 409.76,495.77 410.52,496.28 411.29,496.80 412.05,497.33 412.81,497.86 413.58,498.39 414.34,498.94 415.10,499.49 415.87,500.04 416.63,500.60 417.39,501.17 418.16,501.74 418.92,502.32 419.68,502.91 420.45,503.50 421.21,504.10 421.97,504.71 422.74,505.32 423.50,505.94 424.26,506.57 425.03,507.21 425.79,507.85 426.55,508.50 427.32,509.16 428.08,509.83 428.84,510.50 429.61,511.18 430.37,511.88 431.13,512.57 431.89,513.28 432.66,514.00 433.42,514.73 434.18,515.46 434.95,516.21 435.71,516.96 436.47,517.73 437.24,518.50 438.00,519.28 438.76,520.08 439.53,520.88 440.29,521.70 441.05,522.53 441.82,523.36 442.58,524.21 443.34,525.07 444.11,525.95 444.87,526.83 445.63,527.73 446.40,528.64 447.16,529.56 447.92,530.50 448.69,531.45 449.45,532.41 450.21,533.39 450.98,534.38 451.74,535.39 452.50,536.41 453.27,537.44 454.03,538.50 454.79,539.57 455.56,540.65 456.32,541.75 457.08,542.87 457.85,544.01 458.61,545.16 459.37,546.34 460.14,547.53 460.90,548.74 461.66,549.97 462.43,551.22 463.19,552.49 463.95,553.79 464.72,555.10 465.48,556.44 466.24,557.80 467.01,559.19 467.77,560.60 468.53,562.03 469.30,563.49 470.06,564.98 470.82,566.49 471.59,568.03 472.35,569.60 473.11,571.20 473.88,572.83 474.64,574.49 475.40,576.18 476.17,577.91 476.93,579.66 477.69,581.46 478.46,583.29 479.22,585.15 479.98,587.06 480.75,589.00 481.51,590.98 482.27,593.01 483.04,595.08 483.80,597.19 484.56,599.35 485.33,601.56 486.09,603.81 486.85,606.12 487.62,608.48 488.38,610.89 489.14,613.36 489.90,615.89 490.67,618.48 491.43,621.13 492.19,623.84 492.96,626.62 493.72,629.47 494.48,632.40 495.25,635.39 496.01,638.47 496.77,641.63 497.54,644.87 498.30,648.19 499.06,651.61 499.83,655.13 500.59,658.74 501.35,662.46" stroke="#000" stroke-width="1.67" stroke-dasharray="6.17 2.67"/>
<line x1="400.60" y1="552.20" x2="554.80" y2="552.20" stroke="#ff0000" stroke-width="1.67" stroke-dasharray="6.17 2.67"/>
</g>
<g clip-path="url(#cG)" fill="none" stroke-linejoin="round">
<polyline points="47.03,852.30 68.61,776.90 81.88,776.90 125.51,852.30 144.79,701.50 150.96,852.30 175.17,701.50 196.29,701.50" stroke="#ffff00" stroke-width="1.40"/>
<rect x="44.28" y="849.55" width="5.50" height="5.50" fill="#ffff00" stroke="none"/>
<rect x="65.86" y="774.15" width="5.50" height="5.50" fill="#ffff00" stroke="none"/>
<rect x="79.13" y="774.15" width="5.50" height="5.50" fill="#ffff00" stroke="none"/>
<rect x="122.76" y="849.55" width="5.50" height="5.50" fill="#ffff00" stroke="none"/>
<rect x="142.04" y="698.75" width="5.50" height="5.50" fill="#ffff00" stroke="none"/>
<rect x="148.21" y="849.55" width="5.50" height="5.50" fill="#ffff00" stroke="none"/>
<rect x="172.42" y="698.75" width="5.50" height="5.50" fill="#ffff00" stroke="none"/>
<rect x="193.54" y="698.75" width="5.50" height="5.50" fill="#ffff00" stroke="none"/>
<polyline points="42.40,852.30 71.08,822.14 99.61,808.12" stroke="#000000" stroke-width="1.40"/>
<rect x="39.65" y="849.55" width="5.50" height="5.50" fill="#000000" stroke="none"/>
<rect x="68.33" y="819.39" width="5.50" height="5.50" fill="#000000" stroke="none"/>
<rect x="96.86" y="805.37" width="5.50" height="5.50" fill="#000000" stroke="none"/>
<polyline points="71.70,852.30 84.03,814.60 98.07,852.30 126.59,738.75" stroke="#ff00ff" stroke-width="1.40"/>
<rect x="68.95" y="849.55" width="5.50" height="5.50" fill="#ff00ff" stroke="none"/>
<rect x="81.28" y="811.85" width="5.50" height="5.50" fill="#ff00ff" stroke="none"/>
<rect x="95.32" y="849.55" width="5.50" height="5.50" fill="#ff00ff" stroke="none"/>
<rect x="123.84" y="736.00" width="5.50" height="5.50" fill="#ff00ff" stroke="none"/>
<polyline points="52.73,852.30 66.92,826.66 108.86,801.48 127.36,801.63 143.86,776.90 152.04,701.50" stroke="#ffa500" stroke-width="1.40"/>
<rect x="49.98" y="849.55" width="5.50" height="5.50" fill="#ffa500" stroke="none"/>
<rect x="64.17" y="823.91" width="5.50" height="5.50" fill="#ffa500" stroke="none"/>
<rect x="106.11" y="798.73" width="5.50" height="5.50" fill="#ffa500" stroke="none"/>
<rect x="124.61" y="798.88" width="5.50" height="5.50" fill="#ffa500" stroke="none"/>
<rect x="141.11" y="774.15" width="5.50" height="5.50" fill="#ffa500" stroke="none"/>
<rect x="149.29" y="698.75" width="5.50" height="5.50" fill="#ffa500" stroke="none"/>
<polyline points="73.24,852.30 97.60,802.23 109.17,776.90 129.83,776.90" stroke="#800080" stroke-width="1.40"/>
<rect x="70.49" y="849.55" width="5.50" height="5.50" fill="#800080" stroke="none"/>
<rect x="94.85" y="799.48" width="5.50" height="5.50" fill="#800080" stroke="none"/>
<rect x="106.42" y="774.15" width="5.50" height="5.50" fill="#800080" stroke="none"/>
<rect x="127.08" y="774.15" width="5.50" height="5.50" fill="#800080" stroke="none"/>
<polyline points="42.40,852.30 71.08,821.39 73.86,852.30 100.69,738.90 104.85,801.48 133.07,852.30 135.85,701.50 167.15,852.30" stroke="#0000ff" stroke-width="1.40"/>
<rect x="39.65" y="849.55" width="5.50" height="5.50" fill="#0000ff" stroke="none"/>
<rect x="68.33" y="818.64" width="5.50" height="5.50" fill="#0000ff" stroke="none"/>
<rect x="71.11" y="849.55" width="5.50" height="5.50" fill="#0000ff" stroke="none"/>
<rect x="97.94" y="736.15" width="5.50" height="5.50" fill="#0000ff" stroke="none"/>
<rect x="102.10" y="798.73" width="5.50" height="5.50" fill="#0000ff" stroke="none"/>
<rect x="130.32" y="849.55" width="5.50" height="5.50" fill="#0000ff" stroke="none"/>
<rect x="133.10" y="698.75" width="5.50" height="5.50" fill="#0000ff" stroke="none"/>
<rect x="164.40" y="849.55" width="5.50" height="5.50" fill="#0000ff" stroke="none"/>
<polyline points="50.57,852.30 86.04,852.30 97.76,761.82 126.75,701.50 139.24,801.63 169.00,701.50" stroke="#008000" stroke-width="1.40"/>
<rect x="47.82" y="849.55" width="5.50" height="5.50" fill="#008000" stroke="none"/>
<rect x="83.29" y="849.55" width="5.50" height="5.50" fill="#008000" stroke="none"/>
<rect x="95.01" y="759.07" width="5.50" height="5.50" fill="#008000" stroke="none"/>
<rect x="124.00" y="698.75" width="5.50" height="5.50" fill="#008000" stroke="none"/>
<rect x="136.49" y="798.88" width="5.50" height="5.50" fill="#008000" stroke="none"/>
<rect x="166.25" y="698.75" width="5.50" height="5.50" fill="#008000" stroke="none"/>
<polyline points="48.18,833.15 61.06,801.48 82.03,852.30 100.69,701.50 113.64,852.30 133.07,801.63 174.55,776.90 183.65,701.50" stroke="#ff0000" stroke-width="1.40"/>
<rect x="45.43" y="830.40" width="5.50" height="5.50" fill="#ff0000" stroke="none"/>
<rect x="58.31" y="798.73" width="5.50" height="5.50" fill="#ff0000" stroke="none"/>
<rect x="79.28" y="849.55" width="5.50" height="5.50" fill="#ff0000" stroke="none"/>
<rect x="97.94" y="698.75" width="5.50" height="5.50" fill="#ff0000" stroke="none"/>
<rect x="110.89" y="849.55" width="5.50" height="5.50" fill="#ff0000" stroke="none"/>
<rect x="130.32" y="798.88" width="5.50" height="5.50" fill="#ff0000" stroke="none"/>
<rect x="171.80" y="774.15" width="5.50" height="5.50" fill="#ff0000" stroke="none"/>
<rect x="180.90" y="698.75" width="5.50" height="5.50" fill="#ff0000" stroke="none"/>
<polyline points="42.86,808.57 195.67,801.93" stroke="#00ffff" stroke-width="1.40"/>
<rect x="40.11" y="805.82" width="5.50" height="5.50" fill="#00ffff" stroke="none"/>
<rect x="192.92" y="799.18" width="5.50" height="5.50" fill="#00ffff" stroke="none"/>
<polyline points="65.07,852.30 80.95,813.85 94.83,813.85 111.79,776.90 127.36,776.90" stroke="#a52a2a" stroke-width="1.40"/>
<rect x="62.32" y="849.55" width="5.50" height="5.50" fill="#a52a2a" stroke="none"/>
<rect x="78.20" y="811.10" width="5.50" height="5.50" fill="#a52a2a" stroke="none"/>
<rect x="92.08" y="811.10" width="5.50" height="5.50" fill="#a52a2a" stroke="none"/>
<rect x="109.04" y="774.15" width="5.50" height="5.50" fill="#a52a2a" stroke="none"/>
<rect x="124.61" y="774.15" width="5.50" height="5.50" fill="#a52a2a" stroke="none"/>
<polyline points="69.23,852.30 80.33,833.15 93.75,821.39 111.02,751.72 129.83,751.72" stroke="#ff1493" stroke-width="1.40"/>
<rect x="66.48" y="849.55" width="5.50" height="5.50" fill="#ff1493" stroke="none"/>
<rect x="77.58" y="830.40" width="5.50" height="5.50" fill="#ff1493" stroke="none"/>
<rect x="91.00" y="818.64" width="5.50" height="5.50" fill="#ff1493" stroke="none"/>
<rect x="108.27" y="748.97" width="5.50" height="5.50" fill="#ff1493" stroke="none"/>
<rect x="127.08" y="748.97" width="5.50" height="5.50" fill="#ff1493" stroke="none"/>
<line x1="42.40" y1="852.30" x2="196.60" y2="701.50" stroke="#000" stroke-width="1.55" stroke-dasharray="5.6 2.4"/>
</g>
<g clip-path="url(#cH)" fill="none" stroke-linejoin="round">
<polyline points="403.38,814.45 422.19,814.45 439.15,852.30 446.86,852.30 481.09,776.15 501.45,701.50 537.53,701.50 552.33,758.80" stroke="#ffff00" stroke-width="1.40"/>
<rect x="400.63" y="811.70" width="5.50" height="5.50" fill="#ffff00" stroke="none"/>
<rect x="419.44" y="811.70" width="5.50" height="5.50" fill="#ffff00" stroke="none"/>
<rect x="436.40" y="849.55" width="5.50" height="5.50" fill="#ffff00" stroke="none"/>
<rect x="444.11" y="849.55" width="5.50" height="5.50" fill="#ffff00" stroke="none"/>
<rect x="478.34" y="773.40" width="5.50" height="5.50" fill="#ffff00" stroke="none"/>
<rect x="498.70" y="698.75" width="5.50" height="5.50" fill="#ffff00" stroke="none"/>
<rect x="534.78" y="698.75" width="5.50" height="5.50" fill="#ffff00" stroke="none"/>
<rect x="549.58" y="756.05" width="5.50" height="5.50" fill="#ffff00" stroke="none"/>
<polyline points="420.80,776.45 438.38,836.62 454.11,790.47 468.45,801.63 486.03,801.63 501.45,701.50 515.79,765.59" stroke="#ff00ff" stroke-width="1.40"/>
<rect x="418.05" y="773.70" width="5.50" height="5.50" fill="#ff00ff" stroke="none"/>
<rect x="435.63" y="833.87" width="5.50" height="5.50" fill="#ff00ff" stroke="none"/>
<rect x="451.36" y="787.72" width="5.50" height="5.50" fill="#ff00ff" stroke="none"/>
<rect x="465.70" y="798.88" width="5.50" height="5.50" fill="#ff00ff" stroke="none"/>
<rect x="483.28" y="798.88" width="5.50" height="5.50" fill="#ff00ff" stroke="none"/>
<rect x="498.70" y="698.75" width="5.50" height="5.50" fill="#ff00ff" stroke="none"/>
<rect x="513.04" y="762.84" width="5.50" height="5.50" fill="#ff00ff" stroke="none"/>
<polyline points="409.70,834.81 420.80,784.59 454.11,852.30 471.22,738.90 486.64,852.30 498.36,738.30 518.87,776.15 527.66,730.91" stroke="#ffa500" stroke-width="1.40"/>
<rect x="406.95" y="832.06" width="5.50" height="5.50" fill="#ffa500" stroke="none"/>
<rect x="418.05" y="781.84" width="5.50" height="5.50" fill="#ffa500" stroke="none"/>
<rect x="451.36" y="849.55" width="5.50" height="5.50" fill="#ffa500" stroke="none"/>
<rect x="468.47" y="736.15" width="5.50" height="5.50" fill="#ffa500" stroke="none"/>
<rect x="483.89" y="849.55" width="5.50" height="5.50" fill="#ffa500" stroke="none"/>
<rect x="495.61" y="735.55" width="5.50" height="5.50" fill="#ffa500" stroke="none"/>
<rect x="516.12" y="773.40" width="5.50" height="5.50" fill="#ffa500" stroke="none"/>
<rect x="524.91" y="728.16" width="5.50" height="5.50" fill="#ffa500" stroke="none"/>
<polyline points="423.11,801.48 441.15,822.14 451.64,806.76 469.22,796.96 488.49,730.91 500.37,765.59" stroke="#800080" stroke-width="1.40"/>
<rect x="420.36" y="798.73" width="5.50" height="5.50" fill="#800080" stroke="none"/>
<rect x="438.40" y="819.39" width="5.50" height="5.50" fill="#800080" stroke="none"/>
<rect x="448.89" y="804.01" width="5.50" height="5.50" fill="#800080" stroke="none"/>
<rect x="466.47" y="794.21" width="5.50" height="5.50" fill="#800080" stroke="none"/>
<rect x="485.74" y="728.16" width="5.50" height="5.50" fill="#800080" stroke="none"/>
<rect x="497.62" y="762.84" width="5.50" height="5.50" fill="#800080" stroke="none"/>
<polyline points="400.91,776.45 429.44,822.14 436.07,776.45 460.43,801.48 464.59,801.48 488.49,751.41 495.28,802.23 522.57,701.50 526.43,765.59" stroke="#0000ff" stroke-width="1.40"/>
<rect x="398.16" y="773.70" width="5.50" height="5.50" fill="#0000ff" stroke="none"/>
<rect x="426.69" y="819.39" width="5.50" height="5.50" fill="#0000ff" stroke="none"/>
<rect x="433.32" y="773.70" width="5.50" height="5.50" fill="#0000ff" stroke="none"/>
<rect x="457.68" y="798.73" width="5.50" height="5.50" fill="#0000ff" stroke="none"/>
<rect x="461.84" y="798.73" width="5.50" height="5.50" fill="#0000ff" stroke="none"/>
<rect x="485.74" y="748.66" width="5.50" height="5.50" fill="#0000ff" stroke="none"/>
<rect x="492.53" y="799.48" width="5.50" height="5.50" fill="#0000ff" stroke="none"/>
<rect x="519.82" y="698.75" width="5.50" height="5.50" fill="#0000ff" stroke="none"/>
<rect x="523.68" y="762.84" width="5.50" height="5.50" fill="#0000ff" stroke="none"/>
<polyline points="405.53,794.54 421.42,852.30 438.84,791.08 457.04,801.48 472.77,852.30 486.64,852.30 494.66,776.15 517.64,701.50 531.36,701.50 546.16,751.41" stroke="#008000" stroke-width="1.40"/>
<rect x="402.78" y="791.79" width="5.50" height="5.50" fill="#008000" stroke="none"/>
<rect x="418.67" y="849.55" width="5.50" height="5.50" fill="#008000" stroke="none"/>
<rect x="436.09" y="788.33" width="5.50" height="5.50" fill="#008000" stroke="none"/>
<rect x="454.29" y="798.73" width="5.50" height="5.50" fill="#008000" stroke="none"/>
<rect x="470.02" y="849.55" width="5.50" height="5.50" fill="#008000" stroke="none"/>
<rect x="483.89" y="849.55" width="5.50" height="5.50" fill="#008000" stroke="none"/>
<rect x="491.91" y="773.40" width="5.50" height="5.50" fill="#008000" stroke="none"/>
<rect x="514.89" y="698.75" width="5.50" height="5.50" fill="#008000" stroke="none"/>
<rect x="528.61" y="698.75" width="5.50" height="5.50" fill="#008000" stroke="none"/>
<rect x="543.41" y="748.66" width="5.50" height="5.50" fill="#008000" stroke="none"/>
<polyline points="402.76,804.95 420.80,822.14 439.46,852.30 466.91,852.30 484.18,814.75 516.40,776.15 535.68,761.37 549.87,738.30" stroke="#ff0000" stroke-width="1.40"/>
<rect x="400.01" y="802.20" width="5.50" height="5.50" fill="#ff0000" stroke="none"/>
<rect x="418.05" y="819.39" width="5.50" height="5.50" fill="#ff0000" stroke="none"/>
<rect x="436.71" y="849.55" width="5.50" height="5.50" fill="#ff0000" stroke="none"/>
<rect x="464.16" y="849.55" width="5.50" height="5.50" fill="#ff0000" stroke="none"/>
<rect x="481.43" y="812.00" width="5.50" height="5.50" fill="#ff0000" stroke="none"/>
<rect x="513.65" y="773.40" width="5.50" height="5.50" fill="#ff0000" stroke="none"/>
<rect x="532.93" y="758.62" width="5.50" height="5.50" fill="#ff0000" stroke="none"/>
<rect x="547.12" y="735.55" width="5.50" height="5.50" fill="#ff0000" stroke="none"/>
<polyline points="400.91,799.82 554.34,776.90" stroke="#00ffff" stroke-width="1.40"/>
<rect x="398.16" y="797.07" width="5.50" height="5.50" fill="#00ffff" stroke="none"/>
<rect x="551.59" y="774.15" width="5.50" height="5.50" fill="#00ffff" stroke="none"/>
<polyline points="413.86,852.30 422.50,791.53 438.84,818.97 450.56,814.45 469.84,806.76 482.33,738.30 504.07,738.30 514.55,761.37" stroke="#a52a2a" stroke-width="1.40"/>
<rect x="411.11" y="849.55" width="5.50" height="5.50" fill="#a52a2a" stroke="none"/>
<rect x="419.75" y="788.78" width="5.50" height="5.50" fill="#a52a2a" stroke="none"/>
<rect x="436.09" y="816.22" width="5.50" height="5.50" fill="#a52a2a" stroke="none"/>
<rect x="447.81" y="811.70" width="5.50" height="5.50" fill="#a52a2a" stroke="none"/>
<rect x="467.09" y="804.01" width="5.50" height="5.50" fill="#a52a2a" stroke="none"/>
<rect x="479.58" y="735.55" width="5.50" height="5.50" fill="#a52a2a" stroke="none"/>
<rect x="501.32" y="735.55" width="5.50" height="5.50" fill="#a52a2a" stroke="none"/>
<rect x="511.80" y="758.62" width="5.50" height="5.50" fill="#a52a2a" stroke="none"/>
<polyline points="427.12,801.48 437.76,830.13 454.11,821.39 469.84,830.13 489.73,701.50 501.45,701.50 517.64,738.30 525.66,761.37" stroke="#ff1493" stroke-width="1.40"/>
<rect x="424.37" y="798.73" width="5.50" height="5.50" fill="#ff1493" stroke="none"/>
<rect x="435.01" y="827.38" width="5.50" height="5.50" fill="#ff1493" stroke="none"/>
<rect x="451.36" y="818.64" width="5.50" height="5.50" fill="#ff1493" stroke="none"/>
<rect x="467.09" y="827.38" width="5.50" height="5.50" fill="#ff1493" stroke="none"/>
<rect x="486.98" y="698.75" width="5.50" height="5.50" fill="#ff1493" stroke="none"/>
<rect x="498.70" y="698.75" width="5.50" height="5.50" fill="#ff1493" stroke="none"/>
<rect x="514.89" y="735.55" width="5.50" height="5.50" fill="#ff1493" stroke="none"/>
<rect x="522.91" y="758.62" width="5.50" height="5.50" fill="#ff1493" stroke="none"/>
<line x1="400.60" y1="852.30" x2="554.80" y2="701.50" stroke="#000" stroke-width="1.55" stroke-dasharray="5.6 2.4"/>
</g>
<g style="will-change:transform">
<rect x="40.75" y="11.40" width="256.75" height="195.70" fill="none" stroke="#000" stroke-width="0.46"/>
<line x1="40.75" y1="207.10" x2="40.75" y2="209.56" stroke="#000" stroke-width="0.46"/>
<text x="40.75" y="217.13" font-size="7.00" text-anchor="middle" fill="#000" textLength="10.50" lengthAdjust="spacingAndGlyphs">0.0</text>
<line x1="92.10" y1="207.10" x2="92.10" y2="209.56" stroke="#000" stroke-width="0.46"/>
<text x="92.10" y="217.13" font-size="7.00" text-anchor="middle" fill="#000" textLength="10.50" lengthAdjust="spacingAndGlyphs">0.2</text>
<line x1="143.45" y1="207.10" x2="143.45" y2="209.56" stroke="#000" stroke-width="0.46"/>
<text x="143.45" y="217.13" font-size="7.00" text-anchor="middle" fill="#000" textLength="10.50" lengthAdjust="spacingAndGlyphs">0.4</text>
<line x1="194.80" y1="207.10" x2="194.80" y2="209.56" stroke="#000" stroke-width="0.46"/>
<text x="194.80" y="217.13" font-size="7.00" text-anchor="middle" fill="#000" textLength="10.50" lengthAdjust="spacingAndGlyphs">0.6</text>
<line x1="246.15" y1="207.10" x2="246.15" y2="209.56" stroke="#000" stroke-width="0.46"/>
<text x="246.15" y="217.13" font-size="7.00" text-anchor="middle" fill="#000" textLength="10.50" lengthAdjust="spacingAndGlyphs">0.8</text>
<line x1="297.50" y1="207.10" x2="297.50" y2="209.56" stroke="#000" stroke-width="0.46"/>
<text x="297.50" y="217.13" font-size="7.00" text-anchor="middle" fill="#000" textLength="10.50" lengthAdjust="spacingAndGlyphs">1.0</text>
<line x1="38.29" y1="207.10" x2="40.75" y2="207.10" stroke="#000" stroke-width="0.46"/>
<text x="35.83" y="209.51" font-size="7.00" text-anchor="end" fill="#000" textLength="10.50" lengthAdjust="spacingAndGlyphs">0.0</text>
<line x1="38.29" y1="168.74" x2="40.75" y2="168.74" stroke="#000" stroke-width="0.46"/>
<text x="35.83" y="171.15" font-size="7.00" text-anchor="end" fill="#000" textLength="10.50" lengthAdjust="spacingAndGlyphs">0.2</text>
<line x1="38.29" y1="130.38" x2="40.75" y2="130.38" stroke="#000" stroke-width="0.46"/>
<text x="35.83" y="132.79" font-size="7.00" text-anchor="end" fill="#000" textLength="10.50" lengthAdjust="spacingAndGlyphs">0.4</text>
<line x1="38.29" y1="92.02" x2="40.75" y2="92.02" stroke="#000" stroke-width="0.46"/>
<text x="35.83" y="94.43" font-size="7.00" text-anchor="end" fill="#000" textLength="10.50" lengthAdjust="spacingAndGlyphs">0.6</text>
<line x1="38.29" y1="53.66" x2="40.75" y2="53.66" stroke="#000" stroke-width="0.46"/>
<text x="35.83" y="56.07" font-size="7.00" text-anchor="end" fill="#000" textLength="10.50" lengthAdjust="spacingAndGlyphs">0.8</text>
<line x1="38.29" y1="15.30" x2="40.75" y2="15.30" stroke="#000" stroke-width="0.46"/>
<text x="35.83" y="17.71" font-size="7.00" text-anchor="end" fill="#000" textLength="10.50" lengthAdjust="spacingAndGlyphs">1.0</text>
<rect x="398.90" y="11.40" width="256.60" height="195.90" fill="none" stroke="#000" stroke-width="0.46"/>
<line x1="398.90" y1="207.30" x2="398.90" y2="209.76" stroke="#000" stroke-width="0.46"/>
<text x="398.90" y="217.33" font-size="7.00" text-anchor="middle" fill="#000" textLength="10.50" lengthAdjust="spacingAndGlyphs">0.0</text>
<line x1="450.22" y1="207.30" x2="450.22" y2="209.76" stroke="#000" stroke-width="0.46"/>
<text x="450.22" y="217.33" font-size="7.00" text-anchor="middle" fill="#000" textLength="10.50" lengthAdjust="spacingAndGlyphs">0.2</text>
<line x1="501.54" y1="207.30" x2="501.54" y2="209.76" stroke="#000" stroke-width="0.46"/>
<text x="501.54" y="217.33" font-size="7.00" text-anchor="middle" fill="#000" textLength="10.50" lengthAdjust="spacingAndGlyphs">0.4</text>
<line x1="552.86" y1="207.30" x2="552.86" y2="209.76" stroke="#000" stroke-width="0.46"/>
<text x="552.86" y="217.33" font-size="7.00" text-anchor="middle" fill="#000" textLength="10.50" lengthAdjust="spacingAndGlyphs">0.6</text>
<line x1="604.18" y1="207.30" x2="604.18" y2="209.76" stroke="#000" stroke-width="0.46"/>
<text x="604.18" y="217.33" font-size="7.00" text-anchor="middle" fill="#000" textLength="10.50" lengthAdjust="spacingAndGlyphs">0.8</text>
<line x1="655.50" y1="207.30" x2="655.50" y2="209.76" stroke="#000" stroke-width="0.46"/>
<text x="655.50" y="217.33" font-size="7.00" text-anchor="middle" fill="#000" textLength="10.50" lengthAdjust="spacingAndGlyphs">1.0</text>
<line x1="396.44" y1="207.30" x2="398.90" y2="207.30" stroke="#000" stroke-width="0.46"/>
<text x="393.98" y="209.71" font-size="7.00" text-anchor="end" fill="#000" textLength="10.50" lengthAdjust="spacingAndGlyphs">0.0</text>
<line x1="396.44" y1="169.96" x2="398.90" y2="169.96" stroke="#000" stroke-width="0.46"/>
<text x="393.98" y="172.37" font-size="7.00" text-anchor="end" fill="#000" textLength="10.50" lengthAdjust="spacingAndGlyphs">0.2</text>
<line x1="396.44" y1="132.62" x2="398.90" y2="132.62" stroke="#000" stroke-width="0.46"/>
<text x="393.98" y="135.03" font-size="7.00" text-anchor="end" fill="#000" textLength="10.50" lengthAdjust="spacingAndGlyphs">0.4</text>
<line x1="396.44" y1="95.28" x2="398.90" y2="95.28" stroke="#000" stroke-width="0.46"/>
<text x="393.98" y="97.69" font-size="7.00" text-anchor="end" fill="#000" textLength="10.50" lengthAdjust="spacingAndGlyphs">0.6</text>
<line x1="396.44" y1="57.94" x2="398.90" y2="57.94" stroke="#000" stroke-width="0.46"/>
<text x="393.98" y="60.35" font-size="7.00" text-anchor="end" fill="#000" textLength="10.50" lengthAdjust="spacingAndGlyphs">0.8</text>
<line x1="396.44" y1="20.60" x2="398.90" y2="20.60" stroke="#000" stroke-width="0.46"/>
<text x="393.98" y="23.01" font-size="7.00" text-anchor="end" fill="#000" textLength="10.50" lengthAdjust="spacingAndGlyphs">1.0</text>
<rect x="40.60" y="248.80" width="255.70" height="195.50" fill="none" stroke="#000" stroke-width="0.46"/>
<line x1="45.70" y1="444.30" x2="45.70" y2="446.76" stroke="#000" stroke-width="0.46"/>
<text x="45.70" y="454.33" font-size="7.00" text-anchor="middle" fill="#000" textLength="10.50" lengthAdjust="spacingAndGlyphs">0.0</text>
<line x1="94.96" y1="444.30" x2="94.96" y2="446.76" stroke="#000" stroke-width="0.46"/>
<text x="94.96" y="454.33" font-size="7.00" text-anchor="middle" fill="#000" textLength="10.50" lengthAdjust="spacingAndGlyphs">0.2</text>
<line x1="144.22" y1="444.30" x2="144.22" y2="446.76" stroke="#000" stroke-width="0.46"/>
<text x="144.22" y="454.33" font-size="7.00" text-anchor="middle" fill="#000" textLength="10.50" lengthAdjust="spacingAndGlyphs">0.4</text>
<line x1="193.48" y1="444.30" x2="193.48" y2="446.76" stroke="#000" stroke-width="0.46"/>
<text x="193.48" y="454.33" font-size="7.00" text-anchor="middle" fill="#000" textLength="10.50" lengthAdjust="spacingAndGlyphs">0.6</text>
<line x1="242.74" y1="444.30" x2="242.74" y2="446.76" stroke="#000" stroke-width="0.46"/>
<text x="242.74" y="454.33" font-size="7.00" text-anchor="middle" fill="#000" textLength="10.50" lengthAdjust="spacingAndGlyphs">0.8</text>
<line x1="292.00" y1="444.30" x2="292.00" y2="446.76" stroke="#000" stroke-width="0.46"/>
<text x="292.00" y="454.33" font-size="7.00" text-anchor="middle" fill="#000" textLength="10.50" lengthAdjust="spacingAndGlyphs">1.0</text>
<line x1="38.14" y1="440.60" x2="40.60" y2="440.60" stroke="#000" stroke-width="0.46"/>
<text x="35.68" y="443.01" font-size="7.00" text-anchor="end" fill="#000" textLength="10.50" lengthAdjust="spacingAndGlyphs">0.0</text>
<line x1="38.14" y1="403.02" x2="40.60" y2="403.02" stroke="#000" stroke-width="0.46"/>
<text x="35.68" y="405.43" font-size="7.00" text-anchor="end" fill="#000" textLength="10.50" lengthAdjust="spacingAndGlyphs">0.2</text>
<line x1="38.14" y1="365.44" x2="40.60" y2="365.44" stroke="#000" stroke-width="0.46"/>
<text x="35.68" y="367.85" font-size="7.00" text-anchor="end" fill="#000" textLength="10.50" lengthAdjust="spacingAndGlyphs">0.4</text>
<line x1="38.14" y1="327.86" x2="40.60" y2="327.86" stroke="#000" stroke-width="0.46"/>
<text x="35.68" y="330.27" font-size="7.00" text-anchor="end" fill="#000" textLength="10.50" lengthAdjust="spacingAndGlyphs">0.6</text>
<line x1="38.14" y1="290.28" x2="40.60" y2="290.28" stroke="#000" stroke-width="0.46"/>
<text x="35.68" y="292.69" font-size="7.00" text-anchor="end" fill="#000" textLength="10.50" lengthAdjust="spacingAndGlyphs">0.8</text>
<line x1="38.14" y1="252.70" x2="40.60" y2="252.70" stroke="#000" stroke-width="0.46"/>
<text x="35.68" y="255.11" font-size="7.00" text-anchor="end" fill="#000" textLength="10.50" lengthAdjust="spacingAndGlyphs">1.0</text>
<rect x="400.60" y="248.80" width="255.30" height="195.50" fill="none" stroke="#000" stroke-width="0.46"/>
<line x1="405.40" y1="444.30" x2="405.40" y2="446.76" stroke="#000" stroke-width="0.46"/>
<text x="405.40" y="454.33" font-size="7.00" text-anchor="middle" fill="#000" textLength="10.50" lengthAdjust="spacingAndGlyphs">0.0</text>
<line x1="454.58" y1="444.30" x2="454.58" y2="446.76" stroke="#000" stroke-width="0.46"/>
<text x="454.58" y="454.33" font-size="7.00" text-anchor="middle" fill="#000" textLength="10.50" lengthAdjust="spacingAndGlyphs">0.2</text>
<line x1="503.76" y1="444.30" x2="503.76" y2="446.76" stroke="#000" stroke-width="0.46"/>
<text x="503.76" y="454.33" font-size="7.00" text-anchor="middle" fill="#000" textLength="10.50" lengthAdjust="spacingAndGlyphs">0.4</text>
<line x1="552.94" y1="444.30" x2="552.94" y2="446.76" stroke="#000" stroke-width="0.46"/>
<text x="552.94" y="454.33" font-size="7.00" text-anchor="middle" fill="#000" textLength="10.50" lengthAdjust="spacingAndGlyphs">0.6</text>
<line x1="602.12" y1="444.30" x2="602.12" y2="446.76" stroke="#000" stroke-width="0.46"/>
<text x="602.12" y="454.33" font-size="7.00" text-anchor="middle" fill="#000" textLength="10.50" lengthAdjust="spacingAndGlyphs">0.8</text>
<line x1="651.30" y1="444.30" x2="651.30" y2="446.76" stroke="#000" stroke-width="0.46"/>
<text x="651.30" y="454.33" font-size="7.00" text-anchor="middle" fill="#000" textLength="10.50" lengthAdjust="spacingAndGlyphs">1.0</text>
<line x1="398.14" y1="440.60" x2="400.60" y2="440.60" stroke="#000" stroke-width="0.46"/>
<text x="395.68" y="443.01" font-size="7.00" text-anchor="end" fill="#000" textLength="10.50" lengthAdjust="spacingAndGlyphs">0.0</text>
<line x1="398.14" y1="403.02" x2="400.60" y2="403.02" stroke="#000" stroke-width="0.46"/>
<text x="395.68" y="405.43" font-size="7.00" text-anchor="end" fill="#000" textLength="10.50" lengthAdjust="spacingAndGlyphs">0.2</text>
<line x1="398.14" y1="365.44" x2="400.60" y2="365.44" stroke="#000" stroke-width="0.46"/>
<text x="395.68" y="367.85" font-size="7.00" text-anchor="end" fill="#000" textLength="10.50" lengthAdjust="spacingAndGlyphs">0.4</text>
<line x1="398.14" y1="327.86" x2="400.60" y2="327.86" stroke="#000" stroke-width="0.46"/>
<text x="395.68" y="330.27" font-size="7.00" text-anchor="end" fill="#000" textLength="10.50" lengthAdjust="spacingAndGlyphs">0.6</text>
<line x1="398.14" y1="290.28" x2="400.60" y2="290.28" stroke="#000" stroke-width="0.46"/>
<text x="395.68" y="292.69" font-size="7.00" text-anchor="end" fill="#000" textLength="10.50" lengthAdjust="spacingAndGlyphs">0.8</text>
<line x1="398.14" y1="252.70" x2="400.60" y2="252.70" stroke="#000" stroke-width="0.46"/>
<text x="395.68" y="255.11" font-size="7.00" text-anchor="end" fill="#000" textLength="10.50" lengthAdjust="spacingAndGlyphs">1.0</text>
<rect x="40.80" y="490.70" width="157.60" height="153.70" fill="none" stroke="#000" stroke-width="0.55"/>
<line x1="42.40" y1="644.40" x2="42.40" y2="647.32" stroke="#000" stroke-width="0.55"/>
<text x="42.40" y="656.52" font-size="8.60" text-anchor="middle" fill="#000" textLength="13.04" lengthAdjust="spacingAndGlyphs">0.0</text>
<line x1="73.24" y1="644.40" x2="73.24" y2="647.32" stroke="#000" stroke-width="0.55"/>
<text x="73.24" y="656.52" font-size="8.60" text-anchor="middle" fill="#000" textLength="13.04" lengthAdjust="spacingAndGlyphs">0.2</text>
<line x1="104.08" y1="644.40" x2="104.08" y2="647.32" stroke="#000" stroke-width="0.55"/>
<text x="104.08" y="656.52" font-size="8.60" text-anchor="middle" fill="#000" textLength="13.04" lengthAdjust="spacingAndGlyphs">0.4</text>
<line x1="134.92" y1="644.40" x2="134.92" y2="647.32" stroke="#000" stroke-width="0.55"/>
<text x="134.92" y="656.52" font-size="8.60" text-anchor="middle" fill="#000" textLength="13.04" lengthAdjust="spacingAndGlyphs">0.6</text>
<line x1="165.76" y1="644.40" x2="165.76" y2="647.32" stroke="#000" stroke-width="0.55"/>
<text x="165.76" y="656.52" font-size="8.60" text-anchor="middle" fill="#000" textLength="13.04" lengthAdjust="spacingAndGlyphs">0.8</text>
<line x1="196.60" y1="644.40" x2="196.60" y2="647.32" stroke="#000" stroke-width="0.55"/>
<text x="196.60" y="656.52" font-size="8.60" text-anchor="middle" fill="#000" textLength="13.04" lengthAdjust="spacingAndGlyphs">1.0</text>
<line x1="37.88" y1="644.42" x2="40.80" y2="644.42" stroke="#000" stroke-width="0.55"/>
<text x="34.96" y="647.41" font-size="8.60" text-anchor="end" fill="#000" textLength="19.91" lengthAdjust="spacingAndGlyphs">−0.6</text>
<line x1="37.88" y1="613.68" x2="40.80" y2="613.68" stroke="#000" stroke-width="0.55"/>
<text x="34.96" y="616.67" font-size="8.60" text-anchor="end" fill="#000" textLength="19.91" lengthAdjust="spacingAndGlyphs">−0.4</text>
<line x1="37.88" y1="582.94" x2="40.80" y2="582.94" stroke="#000" stroke-width="0.55"/>
<text x="34.96" y="585.93" font-size="8.60" text-anchor="end" fill="#000" textLength="19.91" lengthAdjust="spacingAndGlyphs">−0.2</text>
<line x1="37.88" y1="552.20" x2="40.80" y2="552.20" stroke="#000" stroke-width="0.55"/>
<text x="34.96" y="555.19" font-size="8.60" text-anchor="end" fill="#000" textLength="13.04" lengthAdjust="spacingAndGlyphs">0.0</text>
<line x1="37.88" y1="521.46" x2="40.80" y2="521.46" stroke="#000" stroke-width="0.55"/>
<text x="34.96" y="524.45" font-size="8.60" text-anchor="end" fill="#000" textLength="13.04" lengthAdjust="spacingAndGlyphs">0.2</text>
<line x1="37.88" y1="490.72" x2="40.80" y2="490.72" stroke="#000" stroke-width="0.55"/>
<text x="34.96" y="493.71" font-size="8.60" text-anchor="end" fill="#000" textLength="13.04" lengthAdjust="spacingAndGlyphs">0.4</text>
<rect x="399.00" y="490.70" width="157.70" height="153.70" fill="none" stroke="#000" stroke-width="0.55"/>
<line x1="400.60" y1="644.40" x2="400.60" y2="647.32" stroke="#000" stroke-width="0.55"/>
<text x="400.60" y="656.52" font-size="8.60" text-anchor="middle" fill="#000" textLength="13.04" lengthAdjust="spacingAndGlyphs">0.0</text>
<line x1="431.44" y1="644.40" x2="431.44" y2="647.32" stroke="#000" stroke-width="0.55"/>
<text x="431.44" y="656.52" font-size="8.60" text-anchor="middle" fill="#000" textLength="13.04" lengthAdjust="spacingAndGlyphs">0.2</text>
<line x1="462.28" y1="644.40" x2="462.28" y2="647.32" stroke="#000" stroke-width="0.55"/>
<text x="462.28" y="656.52" font-size="8.60" text-anchor="middle" fill="#000" textLength="13.04" lengthAdjust="spacingAndGlyphs">0.4</text>
<line x1="493.12" y1="644.40" x2="493.12" y2="647.32" stroke="#000" stroke-width="0.55"/>
<text x="493.12" y="656.52" font-size="8.60" text-anchor="middle" fill="#000" textLength="13.04" lengthAdjust="spacingAndGlyphs">0.6</text>
<line x1="523.96" y1="644.40" x2="523.96" y2="647.32" stroke="#000" stroke-width="0.55"/>
<text x="523.96" y="656.52" font-size="8.60" text-anchor="middle" fill="#000" textLength="13.04" lengthAdjust="spacingAndGlyphs">0.8</text>
<line x1="554.80" y1="644.40" x2="554.80" y2="647.32" stroke="#000" stroke-width="0.55"/>
<text x="554.80" y="656.52" font-size="8.60" text-anchor="middle" fill="#000" textLength="13.04" lengthAdjust="spacingAndGlyphs">1.0</text>
<line x1="396.08" y1="644.42" x2="399.00" y2="644.42" stroke="#000" stroke-width="0.55"/>
<text x="393.16" y="647.41" font-size="8.60" text-anchor="end" fill="#000" textLength="19.91" lengthAdjust="spacingAndGlyphs">−0.6</text>
<line x1="396.08" y1="613.68" x2="399.00" y2="613.68" stroke="#000" stroke-width="0.55"/>
<text x="393.16" y="616.67" font-size="8.60" text-anchor="end" fill="#000" textLength="19.91" lengthAdjust="spacingAndGlyphs">−0.4</text>
<line x1="396.08" y1="582.94" x2="399.00" y2="582.94" stroke="#000" stroke-width="0.55"/>
<text x="393.16" y="585.93" font-size="8.60" text-anchor="end" fill="#000" textLength="19.91" lengthAdjust="spacingAndGlyphs">−0.2</text>
<line x1="396.08" y1="552.20" x2="399.00" y2="552.20" stroke="#000" stroke-width="0.55"/>
<text x="393.16" y="555.19" font-size="8.60" text-anchor="end" fill="#000" textLength="13.04" lengthAdjust="spacingAndGlyphs">0.0</text>
<line x1="396.08" y1="521.46" x2="399.00" y2="521.46" stroke="#000" stroke-width="0.55"/>
<text x="393.16" y="524.45" font-size="8.60" text-anchor="end" fill="#000" textLength="13.04" lengthAdjust="spacingAndGlyphs">0.2</text>
<line x1="396.08" y1="490.72" x2="399.00" y2="490.72" stroke="#000" stroke-width="0.55"/>
<text x="393.16" y="493.71" font-size="8.60" text-anchor="end" fill="#000" textLength="13.04" lengthAdjust="spacingAndGlyphs">0.4</text>
<rect x="40.90" y="699.90" width="157.40" height="153.30" fill="none" stroke="#000" stroke-width="0.55"/>
<line x1="42.40" y1="853.20" x2="42.40" y2="856.12" stroke="#000" stroke-width="0.55"/>
<text x="42.40" y="865.32" font-size="8.60" text-anchor="middle" fill="#000" textLength="13.04" lengthAdjust="spacingAndGlyphs">0.0</text>
<line x1="73.24" y1="853.20" x2="73.24" y2="856.12" stroke="#000" stroke-width="0.55"/>
<text x="73.24" y="865.32" font-size="8.60" text-anchor="middle" fill="#000" textLength="13.04" lengthAdjust="spacingAndGlyphs">0.2</text>
<line x1="104.08" y1="853.20" x2="104.08" y2="856.12" stroke="#000" stroke-width="0.55"/>
<text x="104.08" y="865.32" font-size="8.60" text-anchor="middle" fill="#000" textLength="13.04" lengthAdjust="spacingAndGlyphs">0.4</text>
<line x1="134.92" y1="853.20" x2="134.92" y2="856.12" stroke="#000" stroke-width="0.55"/>
<text x="134.92" y="865.32" font-size="8.60" text-anchor="middle" fill="#000" textLength="13.04" lengthAdjust="spacingAndGlyphs">0.6</text>
<line x1="165.76" y1="853.20" x2="165.76" y2="856.12" stroke="#000" stroke-width="0.55"/>
<text x="165.76" y="865.32" font-size="8.60" text-anchor="middle" fill="#000" textLength="13.04" lengthAdjust="spacingAndGlyphs">0.8</text>
<line x1="196.60" y1="853.20" x2="196.60" y2="856.12" stroke="#000" stroke-width="0.55"/>
<text x="196.60" y="865.32" font-size="8.60" text-anchor="middle" fill="#000" textLength="13.04" lengthAdjust="spacingAndGlyphs">1.0</text>
<line x1="37.98" y1="852.30" x2="40.90" y2="852.30" stroke="#000" stroke-width="0.55"/>
<text x="35.06" y="855.29" font-size="8.60" text-anchor="end" fill="#000" textLength="13.04" lengthAdjust="spacingAndGlyphs">0.0</text>
<line x1="37.98" y1="822.14" x2="40.90" y2="822.14" stroke="#000" stroke-width="0.55"/>
<text x="35.06" y="825.13" font-size="8.60" text-anchor="end" fill="#000" textLength="13.04" lengthAdjust="spacingAndGlyphs">0.2</text>
<line x1="37.98" y1="791.98" x2="40.90" y2="791.98" stroke="#000" stroke-width="0.55"/>
<text x="35.06" y="794.97" font-size="8.60" text-anchor="end" fill="#000" textLength="13.04" lengthAdjust="spacingAndGlyphs">0.4</text>
<line x1="37.98" y1="761.82" x2="40.90" y2="761.82" stroke="#000" stroke-width="0.55"/>
<text x="35.06" y="764.81" font-size="8.60" text-anchor="end" fill="#000" textLength="13.04" lengthAdjust="spacingAndGlyphs">0.6</text>
<line x1="37.98" y1="731.66" x2="40.90" y2="731.66" stroke="#000" stroke-width="0.55"/>
<text x="35.06" y="734.65" font-size="8.60" text-anchor="end" fill="#000" textLength="13.04" lengthAdjust="spacingAndGlyphs">0.8</text>
<line x1="37.98" y1="701.50" x2="40.90" y2="701.50" stroke="#000" stroke-width="0.55"/>
<text x="35.06" y="704.49" font-size="8.60" text-anchor="end" fill="#000" textLength="13.04" lengthAdjust="spacingAndGlyphs">1.0</text>
<rect x="399.10" y="699.70" width="157.10" height="153.50" fill="none" stroke="#000" stroke-width="0.55"/>
<line x1="400.60" y1="853.20" x2="400.60" y2="856.12" stroke="#000" stroke-width="0.55"/>
<text x="400.60" y="865.32" font-size="8.60" text-anchor="middle" fill="#000" textLength="13.04" lengthAdjust="spacingAndGlyphs">0.0</text>
<line x1="431.44" y1="853.20" x2="431.44" y2="856.12" stroke="#000" stroke-width="0.55"/>
<text x="431.44" y="865.32" font-size="8.60" text-anchor="middle" fill="#000" textLength="13.04" lengthAdjust="spacingAndGlyphs">0.2</text>
<line x1="462.28" y1="853.20" x2="462.28" y2="856.12" stroke="#000" stroke-width="0.55"/>
<text x="462.28" y="865.32" font-size="8.60" text-anchor="middle" fill="#000" textLength="13.04" lengthAdjust="spacingAndGlyphs">0.4</text>
<line x1="493.12" y1="853.20" x2="493.12" y2="856.12" stroke="#000" stroke-width="0.55"/>
<text x="493.12" y="865.32" font-size="8.60" text-anchor="middle" fill="#000" textLength="13.04" lengthAdjust="spacingAndGlyphs">0.6</text>
<line x1="523.96" y1="853.20" x2="523.96" y2="856.12" stroke="#000" stroke-width="0.55"/>
<text x="523.96" y="865.32" font-size="8.60" text-anchor="middle" fill="#000" textLength="13.04" lengthAdjust="spacingAndGlyphs">0.8</text>
<line x1="554.80" y1="853.20" x2="554.80" y2="856.12" stroke="#000" stroke-width="0.55"/>
<text x="554.80" y="865.32" font-size="8.60" text-anchor="middle" fill="#000" textLength="13.04" lengthAdjust="spacingAndGlyphs">1.0</text>
<line x1="396.18" y1="852.30" x2="399.10" y2="852.30" stroke="#000" stroke-width="0.55"/>
<text x="393.26" y="855.29" font-size="8.60" text-anchor="end" fill="#000" textLength="13.04" lengthAdjust="spacingAndGlyphs">0.0</text>
<line x1="396.18" y1="822.14" x2="399.10" y2="822.14" stroke="#000" stroke-width="0.55"/>
<text x="393.26" y="825.13" font-size="8.60" text-anchor="end" fill="#000" textLength="13.04" lengthAdjust="spacingAndGlyphs">0.2</text>
<line x1="396.18" y1="791.98" x2="399.10" y2="791.98" stroke="#000" stroke-width="0.55"/>
<text x="393.26" y="794.97" font-size="8.60" text-anchor="end" fill="#000" textLength="13.04" lengthAdjust="spacingAndGlyphs">0.4</text>
<line x1="396.18" y1="761.82" x2="399.10" y2="761.82" stroke="#000" stroke-width="0.55"/>
<text x="393.26" y="764.81" font-size="8.60" text-anchor="end" fill="#000" textLength="13.04" lengthAdjust="spacingAndGlyphs">0.6</text>
<line x1="396.18" y1="731.66" x2="399.10" y2="731.66" stroke="#000" stroke-width="0.55"/>
<text x="393.26" y="734.65" font-size="8.60" text-anchor="end" fill="#000" textLength="13.04" lengthAdjust="spacingAndGlyphs">0.8</text>
<line x1="396.18" y1="701.50" x2="399.10" y2="701.50" stroke="#000" stroke-width="0.55"/>
<text x="393.26" y="704.49" font-size="8.60" text-anchor="end" fill="#000" textLength="13.04" lengthAdjust="spacingAndGlyphs">1.0</text>
<text x="169.12" y="7.00" font-size="8.60" text-anchor="middle" fill="#000" textLength="126.22" lengthAdjust="spacingAndGlyphs">ROC Curve on Validation Data</text>
<text x="527.20" y="7.00" font-size="8.60" text-anchor="middle" fill="#000" textLength="101.20" lengthAdjust="spacingAndGlyphs">ROC Curve on Test Data</text>
<text x="168.45" y="244.70" font-size="8.60" text-anchor="middle" fill="#000" textLength="173.65" lengthAdjust="spacingAndGlyphs">Precision-Recall Curve on Validation Data</text>
<text x="528.25" y="244.70" font-size="8.60" text-anchor="middle" fill="#000" textLength="148.62" lengthAdjust="spacingAndGlyphs">Precision-Recall Curve on Test Data</text>
<text x="119.60" y="486.30" font-size="10.17" text-anchor="middle" fill="#000" textLength="169.99" lengthAdjust="spacingAndGlyphs">Decision Curve on Validation Data</text>
<text x="477.85" y="486.30" font-size="10.17" text-anchor="middle" fill="#000" textLength="140.39" lengthAdjust="spacingAndGlyphs">Decision Curve on Test Data</text>
<text x="119.60" y="694.80" font-size="10.17" text-anchor="middle" fill="#000" textLength="181.79" lengthAdjust="spacingAndGlyphs">Calibration Curve on Validation Data</text>
<text x="477.65" y="694.80" font-size="10.17" text-anchor="middle" fill="#000" textLength="152.19" lengthAdjust="spacingAndGlyphs">Calibration Curve on Test Data</text>
<text x="169.12" y="227.60" font-size="7.17" text-anchor="middle" fill="#000" textLength="65.34" lengthAdjust="spacingAndGlyphs">False Positive Rate</text>
<text x="527.20" y="227.60" font-size="7.17" text-anchor="middle" fill="#000" textLength="65.34" lengthAdjust="spacingAndGlyphs">False Positive Rate</text>
<text x="21.00" y="109.25" font-size="7.17" text-anchor="middle" fill="#000" textLength="62.62" lengthAdjust="spacingAndGlyphs" transform="rotate(-90 21.00 109.25)">True Positive Rate</text>
<text x="379.00" y="109.35" font-size="7.17" text-anchor="middle" fill="#000" textLength="62.62" lengthAdjust="spacingAndGlyphs" transform="rotate(-90 379.00 109.35)">True Positive Rate</text>
<text x="168.45" y="464.00" font-size="7.17" text-anchor="middle" fill="#000" textLength="20.97" lengthAdjust="spacingAndGlyphs">Recall</text>
<text x="528.25" y="464.00" font-size="7.17" text-anchor="middle" fill="#000" textLength="20.97" lengthAdjust="spacingAndGlyphs">Recall</text>
<text x="20.30" y="346.55" font-size="7.17" text-anchor="middle" fill="#000" textLength="31.37" lengthAdjust="spacingAndGlyphs" transform="rotate(-90 20.30 346.55)">Precision</text>
<text x="380.30" y="346.55" font-size="7.17" text-anchor="middle" fill="#000" textLength="31.37" lengthAdjust="spacingAndGlyphs" transform="rotate(-90 380.30 346.55)">Precision</text>
<text x="119.60" y="668.60" font-size="8.51" text-anchor="middle" fill="#000" textLength="87.84" lengthAdjust="spacingAndGlyphs">Threshold Probability</text>
<text x="477.85" y="668.60" font-size="8.51" text-anchor="middle" fill="#000" textLength="87.84" lengthAdjust="spacingAndGlyphs">Threshold Probability</text>
<text x="10.20" y="567.55" font-size="8.51" text-anchor="middle" fill="#000" textLength="47.08" lengthAdjust="spacingAndGlyphs" transform="rotate(-90 10.20 567.55)">Net Benefit</text>
<text x="368.40" y="567.55" font-size="8.51" text-anchor="middle" fill="#000" textLength="47.08" lengthAdjust="spacingAndGlyphs" transform="rotate(-90 368.40 567.55)">Net Benefit</text>
<text x="119.60" y="877.00" font-size="8.51" text-anchor="middle" fill="#000" textLength="111.26" lengthAdjust="spacingAndGlyphs">Mean Predicted Probability</text>
<text x="477.65" y="877.00" font-size="8.51" text-anchor="middle" fill="#000" textLength="111.26" lengthAdjust="spacingAndGlyphs">Mean Predicted Probability</text>
<text x="17.30" y="776.55" font-size="8.51" text-anchor="middle" fill="#000" textLength="83.13" lengthAdjust="spacingAndGlyphs" transform="rotate(-90 17.30 776.55)">Fraction of Positives</text>
<text x="375.50" y="776.45" font-size="8.51" text-anchor="middle" fill="#000" textLength="83.13" lengthAdjust="spacingAndGlyphs" transform="rotate(-90 375.50 776.45)">Fraction of Positives</text>
<text x="2.0" y="20.9" font-size="18" style="stroke:none">A</text>
<text x="358.3" y="20.9" font-size="18" style="stroke:none">B</text>
<text x="1.2" y="260.9" font-size="18" style="stroke:none">C</text>
<text x="357.6" y="260.9" font-size="18" style="stroke:none">D</text>
<text x="1.6" y="499.9" font-size="18" style="stroke:none">E</text>
<text x="359.4" y="499.9" font-size="18" style="stroke:none">F</text>
<text x="-0.2" y="712.2" font-size="18" style="stroke:none">G</text>
<text x="357.7" y="712.3" font-size="18" style="stroke:none">H</text>
<rect x="140.70" y="87.70" width="152.80" height="114.90" rx="1.41" fill="#fff" fill-opacity="0.8" stroke="#cccccc" stroke-opacity="0.8" stroke-width="0.56"/>
<line x1="142.80" y1="93.50" x2="158.20" y2="93.50" stroke="#ffff00" stroke-width="1.41"/>
<text x="163.40" y="96.08" font-size="7.21" text-anchor="start" fill="#000" textLength="127.32" lengthAdjust="spacingAndGlyphs">Gaussian Naive Bayes (AUC = 0.90)</text>
<line x1="142.80" y1="103.83" x2="158.20" y2="103.83" stroke="#000000" stroke-width="1.41"/>
<text x="163.40" y="106.41" font-size="7.21" text-anchor="start" fill="#000" textLength="110.53" lengthAdjust="spacingAndGlyphs">GradientBoosting (AUC = 0.81)</text>
<line x1="142.80" y1="114.16" x2="158.20" y2="114.16" stroke="#ff00ff" stroke-width="1.41"/>
<text x="163.40" y="116.74" font-size="7.21" text-anchor="start" fill="#000" textLength="85.95" lengthAdjust="spacingAndGlyphs">ExtraTrees (AUC = 0.82)</text>
<line x1="142.80" y1="124.49" x2="158.20" y2="124.49" stroke="#ffa500" stroke-width="1.41"/>
<text x="163.40" y="127.07" font-size="7.21" text-anchor="start" fill="#000" textLength="82.95" lengthAdjust="spacingAndGlyphs">LightGBM (AUC = 0.73)</text>
<line x1="142.80" y1="134.82" x2="158.20" y2="134.82" stroke="#800080" stroke-width="1.41"/>
<text x="163.40" y="137.40" font-size="7.21" text-anchor="start" fill="#000" textLength="64.30" lengthAdjust="spacingAndGlyphs">SVM (AUC = 0.79)</text>
<line x1="142.80" y1="145.15" x2="158.20" y2="145.15" stroke="#0000ff" stroke-width="1.41"/>
<text x="163.40" y="147.73" font-size="7.21" text-anchor="start" fill="#000" textLength="64.09" lengthAdjust="spacingAndGlyphs">KNN (AUC = 0.58)</text>
<line x1="142.80" y1="155.48" x2="158.20" y2="155.48" stroke="#008000" stroke-width="1.41"/>
<text x="163.40" y="158.06" font-size="7.21" text-anchor="start" fill="#000" textLength="116.69" lengthAdjust="spacingAndGlyphs">Logistic Regression (AUC = 0.83)</text>
<line x1="142.80" y1="165.81" x2="158.20" y2="165.81" stroke="#ff0000" stroke-width="1.41"/>
<text x="163.40" y="168.39" font-size="7.21" text-anchor="start" fill="#000" textLength="79.15" lengthAdjust="spacingAndGlyphs">XGBoost (AUC = 0.70)</text>
<line x1="142.80" y1="176.14" x2="158.20" y2="176.14" stroke="#00ffff" stroke-width="1.41"/>
<text x="163.40" y="178.72" font-size="7.21" text-anchor="start" fill="#000" textLength="95.95" lengthAdjust="spacingAndGlyphs">Decision Tree (AUC = 0.57)</text>
<line x1="142.80" y1="186.47" x2="158.20" y2="186.47" stroke="#a52a2a" stroke-width="1.41"/>
<text x="163.40" y="189.05" font-size="7.21" text-anchor="start" fill="#000" textLength="99.84" lengthAdjust="spacingAndGlyphs">RandomForest (AUC = 0.67)</text>
<line x1="142.80" y1="196.80" x2="158.20" y2="196.80" stroke="#ff1493" stroke-width="1.41"/>
<text x="163.40" y="199.38" font-size="7.21" text-anchor="start" fill="#000" textLength="102.85" lengthAdjust="spacingAndGlyphs">Stacking Model (AUC = 0.86)</text>
<rect x="499.10" y="87.20" width="152.40" height="116.10" rx="1.41" fill="#fff" fill-opacity="0.8" stroke="#cccccc" stroke-opacity="0.8" stroke-width="0.56"/>
<line x1="501.50" y1="93.20" x2="516.70" y2="93.20" stroke="#ffff00" stroke-width="1.41"/>
<text x="522.00" y="95.78" font-size="7.21" text-anchor="start" fill="#000" textLength="127.32" lengthAdjust="spacingAndGlyphs">Gaussian Naive Bayes (AUC = 0.69)</text>
<line x1="501.50" y1="103.60" x2="516.70" y2="103.60" stroke="#000000" stroke-width="1.41"/>
<text x="522.00" y="106.18" font-size="7.21" text-anchor="start" fill="#000" textLength="110.53" lengthAdjust="spacingAndGlyphs">GradientBoosting (AUC = 0.69)</text>
<line x1="501.50" y1="114.00" x2="516.70" y2="114.00" stroke="#ff00ff" stroke-width="1.41"/>
<text x="522.00" y="116.58" font-size="7.21" text-anchor="start" fill="#000" textLength="85.95" lengthAdjust="spacingAndGlyphs">ExtraTrees (AUC = 0.68)</text>
<line x1="501.50" y1="124.40" x2="516.70" y2="124.40" stroke="#ffa500" stroke-width="1.41"/>
<text x="522.00" y="126.98" font-size="7.21" text-anchor="start" fill="#000" textLength="82.95" lengthAdjust="spacingAndGlyphs">LightGBM (AUC = 0.74)</text>
<line x1="501.50" y1="134.80" x2="516.70" y2="134.80" stroke="#800080" stroke-width="1.41"/>
<text x="522.00" y="137.38" font-size="7.21" text-anchor="start" fill="#000" textLength="64.30" lengthAdjust="spacingAndGlyphs">SVM (AUC = 0.67)</text>
<line x1="501.50" y1="145.20" x2="516.70" y2="145.20" stroke="#0000ff" stroke-width="1.41"/>
<text x="522.00" y="147.78" font-size="7.21" text-anchor="start" fill="#000" textLength="64.09" lengthAdjust="spacingAndGlyphs">KNN (AUC = 0.65)</text>
<line x1="501.50" y1="155.60" x2="516.70" y2="155.60" stroke="#008000" stroke-width="1.41"/>
<text x="522.00" y="158.18" font-size="7.21" text-anchor="start" fill="#000" textLength="116.69" lengthAdjust="spacingAndGlyphs">Logistic Regression (AUC = 0.68)</text>
<line x1="501.50" y1="166.00" x2="516.70" y2="166.00" stroke="#ff0000" stroke-width="1.41"/>
<text x="522.00" y="168.58" font-size="7.21" text-anchor="start" fill="#000" textLength="79.15" lengthAdjust="spacingAndGlyphs">XGBoost (AUC = 0.70)</text>
<line x1="501.50" y1="176.40" x2="516.70" y2="176.40" stroke="#00ffff" stroke-width="1.41"/>
<text x="522.00" y="178.98" font-size="7.21" text-anchor="start" fill="#000" textLength="95.95" lengthAdjust="spacingAndGlyphs">Decision Tree (AUC = 0.56)</text>
<line x1="501.50" y1="186.80" x2="516.70" y2="186.80" stroke="#a52a2a" stroke-width="1.41"/>
<text x="522.00" y="189.38" font-size="7.21" text-anchor="start" fill="#000" textLength="99.84" lengthAdjust="spacingAndGlyphs">RandomForest (AUC = 0.68)</text>
<line x1="501.50" y1="197.20" x2="516.70" y2="197.20" stroke="#ff1493" stroke-width="1.41"/>
<text x="522.00" y="199.78" font-size="7.21" text-anchor="start" fill="#000" textLength="102.85" lengthAdjust="spacingAndGlyphs">Stacking Model (AUC = 0.70)</text>
<rect x="44.60" y="325.30" width="163.70" height="115.30" rx="1.41" fill="#fff" fill-opacity="0.8" stroke="#cccccc" stroke-opacity="0.8" stroke-width="0.56"/>
<line x1="46.20" y1="330.60" x2="61.80" y2="330.60" stroke="#ffff00" stroke-width="1.41"/>
<text x="67.00" y="333.18" font-size="7.21" text-anchor="start" fill="#000" textLength="138.75" lengthAdjust="spacingAndGlyphs">Gaussian Naive Bayes (PR AUC = 0.83)</text>
<line x1="46.20" y1="341.00" x2="61.80" y2="341.00" stroke="#000000" stroke-width="1.41"/>
<text x="67.00" y="343.58" font-size="7.21" text-anchor="start" fill="#000" textLength="121.96" lengthAdjust="spacingAndGlyphs">GradientBoosting (PR AUC = 0.54)</text>
<line x1="46.20" y1="351.40" x2="61.80" y2="351.40" stroke="#ff00ff" stroke-width="1.41"/>
<text x="67.00" y="353.98" font-size="7.21" text-anchor="start" fill="#000" textLength="97.37" lengthAdjust="spacingAndGlyphs">ExtraTrees (PR AUC = 0.64)</text>
<line x1="46.20" y1="361.80" x2="61.80" y2="361.80" stroke="#ffa500" stroke-width="1.41"/>
<text x="67.00" y="364.38" font-size="7.21" text-anchor="start" fill="#000" textLength="94.37" lengthAdjust="spacingAndGlyphs">LightGBM (PR AUC = 0.62)</text>
<line x1="46.20" y1="372.20" x2="61.80" y2="372.20" stroke="#800080" stroke-width="1.41"/>
<text x="67.00" y="374.78" font-size="7.21" text-anchor="start" fill="#000" textLength="75.72" lengthAdjust="spacingAndGlyphs">SVM (PR AUC = 0.46)</text>
<line x1="46.20" y1="382.60" x2="61.80" y2="382.60" stroke="#0000ff" stroke-width="1.41"/>
<text x="67.00" y="385.18" font-size="7.21" text-anchor="start" fill="#000" textLength="75.51" lengthAdjust="spacingAndGlyphs">KNN (PR AUC = 0.32)</text>
<line x1="46.20" y1="393.00" x2="61.80" y2="393.00" stroke="#008000" stroke-width="1.41"/>
<text x="67.00" y="395.58" font-size="7.21" text-anchor="start" fill="#000" textLength="128.11" lengthAdjust="spacingAndGlyphs">Logistic Regression (PR AUC = 0.61)</text>
<line x1="46.20" y1="403.40" x2="61.80" y2="403.40" stroke="#ff0000" stroke-width="1.41"/>
<text x="67.00" y="405.98" font-size="7.21" text-anchor="start" fill="#000" textLength="90.57" lengthAdjust="spacingAndGlyphs">XGBoost (PR AUC = 0.61)</text>
<line x1="46.20" y1="413.80" x2="61.80" y2="413.80" stroke="#00ffff" stroke-width="1.41"/>
<text x="67.00" y="416.38" font-size="7.21" text-anchor="start" fill="#000" textLength="107.37" lengthAdjust="spacingAndGlyphs">Decision Tree (PR AUC = 0.43)</text>
<line x1="46.20" y1="424.20" x2="61.80" y2="424.20" stroke="#a52a2a" stroke-width="1.41"/>
<text x="67.00" y="426.78" font-size="7.21" text-anchor="start" fill="#000" textLength="111.26" lengthAdjust="spacingAndGlyphs">RandomForest (PR AUC = 0.65)</text>
<line x1="46.20" y1="434.60" x2="61.80" y2="434.60" stroke="#ff1493" stroke-width="1.41"/>
<text x="67.00" y="437.18" font-size="7.21" text-anchor="start" fill="#000" textLength="114.28" lengthAdjust="spacingAndGlyphs">Stacking Model (PR AUC = 0.52)</text>
<rect x="404.60" y="325.30" width="163.40" height="115.30" rx="1.41" fill="#fff" fill-opacity="0.8" stroke="#cccccc" stroke-opacity="0.8" stroke-width="0.56"/>
<line x1="406.20" y1="330.60" x2="421.80" y2="330.60" stroke="#ffff00" stroke-width="1.41"/>
<text x="427.00" y="333.18" font-size="7.21" text-anchor="start" fill="#000" textLength="138.75" lengthAdjust="spacingAndGlyphs">Gaussian Naive Bayes (PR AUC = 0.68)</text>
<line x1="406.20" y1="341.00" x2="421.80" y2="341.00" stroke="#000000" stroke-width="1.41"/>
<text x="427.00" y="343.58" font-size="7.21" text-anchor="start" fill="#000" textLength="121.96" lengthAdjust="spacingAndGlyphs">GradientBoosting (PR AUC = 0.57)</text>
<line x1="406.20" y1="351.40" x2="421.80" y2="351.40" stroke="#ff00ff" stroke-width="1.41"/>
<text x="427.00" y="353.98" font-size="7.21" text-anchor="start" fill="#000" textLength="97.37" lengthAdjust="spacingAndGlyphs">ExtraTrees (PR AUC = 0.60)</text>
<line x1="406.20" y1="361.80" x2="421.80" y2="361.80" stroke="#ffa500" stroke-width="1.41"/>
<text x="427.00" y="364.38" font-size="7.21" text-anchor="start" fill="#000" textLength="94.37" lengthAdjust="spacingAndGlyphs">LightGBM (PR AUC = 0.66)</text>
<line x1="406.20" y1="372.20" x2="421.80" y2="372.20" stroke="#800080" stroke-width="1.41"/>
<text x="427.00" y="374.78" font-size="7.21" text-anchor="start" fill="#000" textLength="75.72" lengthAdjust="spacingAndGlyphs">SVM (PR AUC = 0.53)</text>
<line x1="406.20" y1="382.60" x2="421.80" y2="382.60" stroke="#0000ff" stroke-width="1.41"/>
<text x="427.00" y="385.18" font-size="7.21" text-anchor="start" fill="#000" textLength="75.51" lengthAdjust="spacingAndGlyphs">KNN (PR AUC = 0.62)</text>
<line x1="406.20" y1="393.00" x2="421.80" y2="393.00" stroke="#008000" stroke-width="1.41"/>
<text x="427.00" y="395.58" font-size="7.21" text-anchor="start" fill="#000" textLength="128.11" lengthAdjust="spacingAndGlyphs">Logistic Regression (PR AUC = 0.59)</text>
<line x1="406.20" y1="403.40" x2="421.80" y2="403.40" stroke="#ff0000" stroke-width="1.41"/>
<text x="427.00" y="405.98" font-size="7.21" text-anchor="start" fill="#000" textLength="90.57" lengthAdjust="spacingAndGlyphs">XGBoost (PR AUC = 0.63)</text>
<line x1="406.20" y1="413.80" x2="421.80" y2="413.80" stroke="#00ffff" stroke-width="1.41"/>
<text x="427.00" y="416.38" font-size="7.21" text-anchor="start" fill="#000" textLength="107.37" lengthAdjust="spacingAndGlyphs">Decision Tree (PR AUC = 0.60)</text>
<line x1="406.20" y1="424.20" x2="421.80" y2="424.20" stroke="#a52a2a" stroke-width="1.41"/>
<text x="427.00" y="426.78" font-size="7.21" text-anchor="start" fill="#000" textLength="111.26" lengthAdjust="spacingAndGlyphs">RandomForest (PR AUC = 0.57)</text>
<line x1="406.20" y1="434.60" x2="421.80" y2="434.60" stroke="#ff1493" stroke-width="1.41"/>
<text x="427.00" y="437.18" font-size="7.21" text-anchor="start" fill="#000" textLength="114.28" lengthAdjust="spacingAndGlyphs">Stacking Model (PR AUC = 0.55)</text>
<rect x="202.70" y="486.80" width="122.80" height="161.80" rx="1.67" fill="#fff" fill-opacity="0.8" stroke="#cccccc" stroke-opacity="0.8" stroke-width="0.67"/>
<line x1="205.00" y1="493.60" x2="223.40" y2="493.60" stroke="#ffff00" stroke-width="1.67"/>
<text x="229.50" y="496.64" font-size="8.51" text-anchor="start" fill="#000" textLength="92.54" lengthAdjust="spacingAndGlyphs">Gaussian Naive Bayes</text>
<line x1="205.00" y1="505.87" x2="223.40" y2="505.87" stroke="#000000" stroke-width="1.67"/>
<text x="229.50" y="508.91" font-size="8.51" text-anchor="start" fill="#000" textLength="72.74" lengthAdjust="spacingAndGlyphs">GradientBoosting</text>
<line x1="205.00" y1="518.14" x2="223.40" y2="518.14" stroke="#ff00ff" stroke-width="1.67"/>
<text x="229.50" y="521.18" font-size="8.51" text-anchor="start" fill="#000" textLength="43.74" lengthAdjust="spacingAndGlyphs">ExtraTrees</text>
<line x1="205.00" y1="530.41" x2="223.40" y2="530.41" stroke="#ffa500" stroke-width="1.67"/>
<text x="229.50" y="533.45" font-size="8.51" text-anchor="start" fill="#000" textLength="40.19" lengthAdjust="spacingAndGlyphs">LightGBM</text>
<line x1="205.00" y1="542.68" x2="223.40" y2="542.68" stroke="#800080" stroke-width="1.67"/>
<text x="229.50" y="545.72" font-size="8.51" text-anchor="start" fill="#000" textLength="18.19" lengthAdjust="spacingAndGlyphs">SVM</text>
<line x1="205.00" y1="554.95" x2="223.40" y2="554.95" stroke="#0000ff" stroke-width="1.67"/>
<text x="229.50" y="557.99" font-size="8.51" text-anchor="start" fill="#000" textLength="17.95" lengthAdjust="spacingAndGlyphs">KNN</text>
<line x1="205.00" y1="567.22" x2="223.40" y2="567.22" stroke="#008000" stroke-width="1.67"/>
<text x="229.50" y="570.26" font-size="8.51" text-anchor="start" fill="#000" textLength="80.00" lengthAdjust="spacingAndGlyphs">Logistic Regression</text>
<line x1="205.00" y1="579.49" x2="223.40" y2="579.49" stroke="#ff0000" stroke-width="1.67"/>
<text x="229.50" y="582.53" font-size="8.51" text-anchor="start" fill="#000" textLength="35.72" lengthAdjust="spacingAndGlyphs">XGBoost</text>
<line x1="205.00" y1="591.76" x2="223.40" y2="591.76" stroke="#00ffff" stroke-width="1.67"/>
<text x="229.50" y="594.80" font-size="8.51" text-anchor="start" fill="#000" textLength="55.53" lengthAdjust="spacingAndGlyphs">Decision Tree</text>
<line x1="205.00" y1="604.03" x2="223.40" y2="604.03" stroke="#a52a2a" stroke-width="1.67"/>
<text x="229.50" y="607.07" font-size="8.51" text-anchor="start" fill="#000" textLength="62.77" lengthAdjust="spacingAndGlyphs">Random Forest</text>
<line x1="205.00" y1="616.30" x2="223.40" y2="616.30" stroke="#ff1493" stroke-width="1.67"/>
<text x="229.50" y="619.34" font-size="8.51" text-anchor="start" fill="#000" textLength="63.68" lengthAdjust="spacingAndGlyphs">Stacking Model</text>
<line x1="205.83" y1="628.57" x2="222.57" y2="628.57" stroke="#000" stroke-width="1.67" stroke-dasharray="6.17 2.67"/>
<text x="229.50" y="631.61" font-size="8.51" text-anchor="start" fill="#000" textLength="33.62" lengthAdjust="spacingAndGlyphs">Treat All</text>
<line x1="205.83" y1="640.84" x2="222.57" y2="640.84" stroke="#ff6b6b" stroke-width="1.67" stroke-dasharray="6.17 2.67"/>
<text x="229.50" y="643.88" font-size="8.51" text-anchor="start" fill="#000" textLength="45.04" lengthAdjust="spacingAndGlyphs">Treat None</text>
<rect x="560.80" y="486.80" width="122.80" height="161.80" rx="1.67" fill="#fff" fill-opacity="0.8" stroke="#cccccc" stroke-opacity="0.8" stroke-width="0.67"/>
<line x1="563.10" y1="493.60" x2="581.50" y2="493.60" stroke="#ffff00" stroke-width="1.67"/>
<text x="587.60" y="496.64" font-size="8.51" text-anchor="start" fill="#000" textLength="92.54" lengthAdjust="spacingAndGlyphs">Gaussian Naive Bayes</text>
<line x1="563.10" y1="505.87" x2="581.50" y2="505.87" stroke="#000000" stroke-width="1.67"/>
<text x="587.60" y="508.91" font-size="8.51" text-anchor="start" fill="#000" textLength="72.74" lengthAdjust="spacingAndGlyphs">GradientBoosting</text>
<line x1="563.10" y1="518.14" x2="581.50" y2="518.14" stroke="#ff00ff" stroke-width="1.67"/>
<text x="587.60" y="521.18" font-size="8.51" text-anchor="start" fill="#000" textLength="43.74" lengthAdjust="spacingAndGlyphs">ExtraTrees</text>
<line x1="563.10" y1="530.41" x2="581.50" y2="530.41" stroke="#ffa500" stroke-width="1.67"/>
<text x="587.60" y="533.45" font-size="8.51" text-anchor="start" fill="#000" textLength="40.19" lengthAdjust="spacingAndGlyphs">LightGBM</text>
<line x1="563.10" y1="542.68" x2="581.50" y2="542.68" stroke="#800080" stroke-width="1.67"/>
<text x="587.60" y="545.72" font-size="8.51" text-anchor="start" fill="#000" textLength="18.19" lengthAdjust="spacingAndGlyphs">SVM</text>
<line x1="563.10" y1="554.95" x2="581.50" y2="554.95" stroke="#0000ff" stroke-width="1.67"/>
<text x="587.60" y="557.99" font-size="8.51" text-anchor="start" fill="#000" textLength="17.95" lengthAdjust="spacingAndGlyphs">KNN</text>
<line x1="563.10" y1="567.22" x2="581.50" y2="567.22" stroke="#008000" stroke-width="1.67"/>
<text x="587.60" y="570.26" font-size="8.51" text-anchor="start" fill="#000" textLength="80.00" lengthAdjust="spacingAndGlyphs">Logistic Regression</text>
<line x1="563.10" y1="579.49" x2="581.50" y2="579.49" stroke="#ff0000" stroke-width="1.67"/>
<text x="587.60" y="582.53" font-size="8.51" text-anchor="start" fill="#000" textLength="35.72" lengthAdjust="spacingAndGlyphs">XGBoost</text>
<line x1="563.10" y1="591.76" x2="581.50" y2="591.76" stroke="#00ffff" stroke-width="1.67"/>
<text x="587.60" y="594.80" font-size="8.51" text-anchor="start" fill="#000" textLength="55.53" lengthAdjust="spacingAndGlyphs">Decision Tree</text>
<line x1="563.10" y1="604.03" x2="581.50" y2="604.03" stroke="#a52a2a" stroke-width="1.67"/>
<text x="587.60" y="607.07" font-size="8.51" text-anchor="start" fill="#000" textLength="62.77" lengthAdjust="spacingAndGlyphs">Random Forest</text>
<line x1="563.10" y1="616.30" x2="581.50" y2="616.30" stroke="#ff1493" stroke-width="1.67"/>
<text x="587.60" y="619.34" font-size="8.51" text-anchor="start" fill="#000" textLength="63.68" lengthAdjust="spacingAndGlyphs">Stacking Model</text>
<line x1="563.93" y1="628.57" x2="580.67" y2="628.57" stroke="#000" stroke-width="1.67" stroke-dasharray="6.17 2.67"/>
<text x="587.60" y="631.61" font-size="8.51" text-anchor="start" fill="#000" textLength="33.62" lengthAdjust="spacingAndGlyphs">Treat All</text>
<line x1="563.93" y1="640.84" x2="580.67" y2="640.84" stroke="#ff6b6b" stroke-width="1.67" stroke-dasharray="6.17 2.67"/>
<text x="587.60" y="643.88" font-size="8.51" text-anchor="start" fill="#000" textLength="45.04" lengthAdjust="spacingAndGlyphs">Treat None</text>
<rect x="202.60" y="701.90" width="122.90" height="149.50" rx="1.67" fill="#fff" fill-opacity="0.8" stroke="#cccccc" stroke-opacity="0.8" stroke-width="0.67"/>
<line x1="205.20" y1="708.40" x2="223.10" y2="708.40" stroke="#ffff00" stroke-width="1.33"/>
<rect x="211.05" y="705.30" width="6.20" height="6.20" fill="#ffff00"/>
<text x="229.60" y="711.44" font-size="8.51" text-anchor="start" fill="#000" textLength="92.54" lengthAdjust="spacingAndGlyphs">Gaussian Naive Bayes</text>
<line x1="205.20" y1="720.71" x2="223.10" y2="720.71" stroke="#000000" stroke-width="1.33"/>
<rect x="211.05" y="717.61" width="6.20" height="6.20" fill="#000000"/>
<text x="229.60" y="723.75" font-size="8.51" text-anchor="start" fill="#000" textLength="72.74" lengthAdjust="spacingAndGlyphs">GradientBoosting</text>
<line x1="205.20" y1="733.02" x2="223.10" y2="733.02" stroke="#ff00ff" stroke-width="1.33"/>
<rect x="211.05" y="729.92" width="6.20" height="6.20" fill="#ff00ff"/>
<text x="229.60" y="736.06" font-size="8.51" text-anchor="start" fill="#000" textLength="43.74" lengthAdjust="spacingAndGlyphs">ExtraTrees</text>
<line x1="205.20" y1="745.33" x2="223.10" y2="745.33" stroke="#ffa500" stroke-width="1.33"/>
<rect x="211.05" y="742.23" width="6.20" height="6.20" fill="#ffa500"/>
<text x="229.60" y="748.37" font-size="8.51" text-anchor="start" fill="#000" textLength="40.19" lengthAdjust="spacingAndGlyphs">LightGBM</text>
<line x1="205.20" y1="757.64" x2="223.10" y2="757.64" stroke="#800080" stroke-width="1.33"/>
<rect x="211.05" y="754.54" width="6.20" height="6.20" fill="#800080"/>
<text x="229.60" y="760.68" font-size="8.51" text-anchor="start" fill="#000" textLength="18.19" lengthAdjust="spacingAndGlyphs">SVM</text>
<line x1="205.20" y1="769.95" x2="223.10" y2="769.95" stroke="#0000ff" stroke-width="1.33"/>
<rect x="211.05" y="766.85" width="6.20" height="6.20" fill="#0000ff"/>
<text x="229.60" y="772.99" font-size="8.51" text-anchor="start" fill="#000" textLength="17.95" lengthAdjust="spacingAndGlyphs">KNN</text>
<line x1="205.20" y1="782.26" x2="223.10" y2="782.26" stroke="#008000" stroke-width="1.33"/>
<rect x="211.05" y="779.16" width="6.20" height="6.20" fill="#008000"/>
<text x="229.60" y="785.30" font-size="8.51" text-anchor="start" fill="#000" textLength="80.00" lengthAdjust="spacingAndGlyphs">Logistic Regression</text>
<line x1="205.20" y1="794.57" x2="223.10" y2="794.57" stroke="#ff0000" stroke-width="1.33"/>
<rect x="211.05" y="791.47" width="6.20" height="6.20" fill="#ff0000"/>
<text x="229.60" y="797.61" font-size="8.51" text-anchor="start" fill="#000" textLength="35.72" lengthAdjust="spacingAndGlyphs">XGBoost</text>
<line x1="205.20" y1="806.88" x2="223.10" y2="806.88" stroke="#00ffff" stroke-width="1.33"/>
<rect x="211.05" y="803.78" width="6.20" height="6.20" fill="#00ffff"/>
<text x="229.60" y="809.92" font-size="8.51" text-anchor="start" fill="#000" textLength="55.53" lengthAdjust="spacingAndGlyphs">Decision Tree</text>
<line x1="205.20" y1="819.19" x2="223.10" y2="819.19" stroke="#a52a2a" stroke-width="1.33"/>
<rect x="211.05" y="816.09" width="6.20" height="6.20" fill="#a52a2a"/>
<text x="229.60" y="822.23" font-size="8.51" text-anchor="start" fill="#000" textLength="62.77" lengthAdjust="spacingAndGlyphs">Random Forest</text>
<line x1="205.20" y1="831.50" x2="223.10" y2="831.50" stroke="#ff1493" stroke-width="1.33"/>
<rect x="211.05" y="828.40" width="6.20" height="6.20" fill="#ff1493"/>
<text x="229.60" y="834.54" font-size="8.51" text-anchor="start" fill="#000" textLength="63.68" lengthAdjust="spacingAndGlyphs">Stacking Model</text>
<line x1="205.87" y1="843.81" x2="222.43" y2="843.81" stroke="#000" stroke-width="1.60" stroke-dasharray="3.9 1.4"/>
<text x="229.60" y="846.85" font-size="8.51" text-anchor="start" fill="#000" textLength="80.98" lengthAdjust="spacingAndGlyphs">Perfectly calibrated</text>
<rect x="560.80" y="701.90" width="122.50" height="149.50" rx="1.67" fill="#fff" fill-opacity="0.8" stroke="#cccccc" stroke-opacity="0.8" stroke-width="0.67"/>
<line x1="563.40" y1="708.40" x2="581.30" y2="708.40" stroke="#ffff00" stroke-width="1.33"/>
<rect x="569.25" y="705.30" width="6.20" height="6.20" fill="#ffff00"/>
<text x="587.80" y="711.44" font-size="8.51" text-anchor="start" fill="#000" textLength="92.54" lengthAdjust="spacingAndGlyphs">Gaussian Naive Bayes</text>
<line x1="563.40" y1="720.71" x2="581.30" y2="720.71" stroke="#000000" stroke-width="1.33"/>
<rect x="569.25" y="717.61" width="6.20" height="6.20" fill="#000000"/>
<text x="587.80" y="723.75" font-size="8.51" text-anchor="start" fill="#000" textLength="72.74" lengthAdjust="spacingAndGlyphs">GradientBoosting</text>
<line x1="563.40" y1="733.02" x2="581.30" y2="733.02" stroke="#ff00ff" stroke-width="1.33"/>
<rect x="569.25" y="729.92" width="6.20" height="6.20" fill="#ff00ff"/>
<text x="587.80" y="736.06" font-size="8.51" text-anchor="start" fill="#000" textLength="43.74" lengthAdjust="spacingAndGlyphs">ExtraTrees</text>
<line x1="563.40" y1="745.33" x2="581.30" y2="745.33" stroke="#ffa500" stroke-width="1.33"/>
<rect x="569.25" y="742.23" width="6.20" height="6.20" fill="#ffa500"/>
<text x="587.80" y="748.37" font-size="8.51" text-anchor="start" fill="#000" textLength="40.19" lengthAdjust="spacingAndGlyphs">LightGBM</text>
<line x1="563.40" y1="757.64" x2="581.30" y2="757.64" stroke="#800080" stroke-width="1.33"/>
<rect x="569.25" y="754.54" width="6.20" height="6.20" fill="#800080"/>
<text x="587.80" y="760.68" font-size="8.51" text-anchor="start" fill="#000" textLength="18.19" lengthAdjust="spacingAndGlyphs">SVM</text>
<line x1="563.40" y1="769.95" x2="581.30" y2="769.95" stroke="#0000ff" stroke-width="1.33"/>
<rect x="569.25" y="766.85" width="6.20" height="6.20" fill="#0000ff"/>
<text x="587.80" y="772.99" font-size="8.51" text-anchor="start" fill="#000" textLength="17.95" lengthAdjust="spacingAndGlyphs">KNN</text>
<line x1="563.40" y1="782.26" x2="581.30" y2="782.26" stroke="#008000" stroke-width="1.33"/>
<rect x="569.25" y="779.16" width="6.20" height="6.20" fill="#008000"/>
<text x="587.80" y="785.30" font-size="8.51" text-anchor="start" fill="#000" textLength="80.00" lengthAdjust="spacingAndGlyphs">Logistic Regression</text>
<line x1="563.40" y1="794.57" x2="581.30" y2="794.57" stroke="#ff0000" stroke-width="1.33"/>
<rect x="569.25" y="791.47" width="6.20" height="6.20" fill="#ff0000"/>
<text x="587.80" y="797.61" font-size="8.51" text-anchor="start" fill="#000" textLength="35.72" lengthAdjust="spacingAndGlyphs">XGBoost</text>
<line x1="563.40" y1="806.88" x2="581.30" y2="806.88" stroke="#00ffff" stroke-width="1.33"/>
<rect x="569.25" y="803.78" width="6.20" height="6.20" fill="#00ffff"/>
<text x="587.80" y="809.92" font-size="8.51" text-anchor="start" fill="#000" textLength="55.53" lengthAdjust="spacingAndGlyphs">Decision Tree</text>
<line x1="563.40" y1="819.19" x2="581.30" y2="819.19" stroke="#a52a2a" stroke-width="1.33"/>
<rect x="569.25" y="816.09" width="6.20" height="6.20" fill="#a52a2a"/>
<text x="587.80" y="822.23" font-size="8.51" text-anchor="start" fill="#000" textLength="62.77" lengthAdjust="spacingAndGlyphs">Random Forest</text>
<line x1="563.40" y1="831.50" x2="581.30" y2="831.50" stroke="#ff1493" stroke-width="1.33"/>
<rect x="569.25" y="828.40" width="6.20" height="6.20" fill="#ff1493"/>
<text x="587.80" y="834.54" font-size="8.51" text-anchor="start" fill="#000" textLength="63.68" lengthAdjust="spacingAndGlyphs">Stacking Model</text>
<line x1="564.07" y1="843.81" x2="580.63" y2="843.81" stroke="#000" stroke-width="1.60" stroke-dasharray="3.9 1.4"/>
<text x="587.80" y="846.85" font-size="8.51" text-anchor="start" fill="#000" textLength="80.98" lengthAdjust="spacingAndGlyphs">Perfectly calibrated</text>
</g></svg></body></html>
